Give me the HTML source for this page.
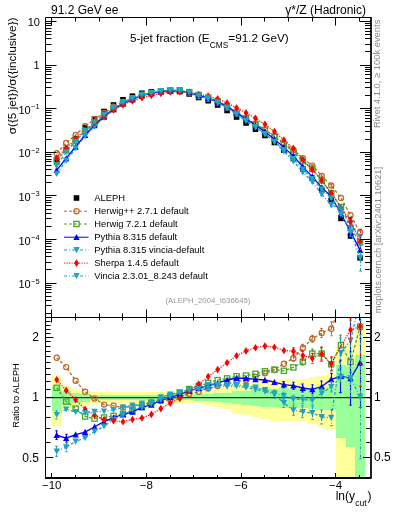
<!DOCTYPE html>
<html><head><meta charset="utf-8"><style>html,body{margin:0;padding:0;background:#fff;overflow:hidden}svg{display:block;will-change:transform}</style></head>
<body><svg width="393" height="512" viewBox="0 0 393 512" font-family='"Liberation Sans", sans-serif'>
<defs><clipPath id="cm"><rect x="45.5" y="17.5" width="325.5" height="300.0"/></clipPath>
<clipPath id="cr"><rect x="45.5" y="317.5" width="325.5" height="160.5"/></clipPath></defs>
<rect width="393" height="512" fill="#fff"/>
<rect x="52" y="376" width="9" height="50" fill="#ffff99"/><rect x="61" y="386" width="10" height="25" fill="#ffff99"/><rect x="71" y="389" width="9" height="18" fill="#ffff99"/><rect x="80" y="391" width="10" height="14" fill="#ffff99"/><rect x="90" y="392" width="9" height="11" fill="#ffff99"/><rect x="99" y="392" width="10" height="11" fill="#ffff99"/><rect x="109" y="392" width="9" height="11" fill="#ffff99"/><rect x="118" y="392" width="10" height="11" fill="#ffff99"/><rect x="128" y="392" width="9" height="11" fill="#ffff99"/><rect x="137" y="392" width="10" height="11" fill="#ffff99"/><rect x="147" y="392" width="9" height="11" fill="#ffff99"/><rect x="156" y="392" width="10" height="11" fill="#ffff99"/><rect x="166" y="392" width="9" height="11" fill="#ffff99"/><rect x="175" y="392" width="10" height="11" fill="#ffff99"/><rect x="185" y="392" width="9" height="11" fill="#ffff99"/><rect x="194" y="392" width="9" height="11" fill="#ffff99"/><rect x="203" y="391" width="10" height="14" fill="#ffff99"/><rect x="213" y="389" width="9" height="18" fill="#ffff99"/><rect x="222" y="387" width="10" height="22" fill="#ffff99"/><rect x="232" y="384" width="9" height="30" fill="#ffff99"/><rect x="241" y="383" width="10" height="32" fill="#ffff99"/><rect x="251" y="382" width="9" height="35" fill="#ffff99"/><rect x="260" y="380" width="10" height="39" fill="#ffff99"/><rect x="270" y="379" width="9" height="43" fill="#ffff99"/><rect x="279" y="379" width="10" height="42" fill="#ffff99"/><rect x="289" y="379" width="9" height="42" fill="#ffff99"/><rect x="298" y="379" width="10" height="42" fill="#ffff99"/><rect x="308" y="377" width="9" height="47" fill="#ffff99"/><rect x="317" y="376" width="9" height="51" fill="#ffff99"/><rect x="326" y="374" width="10" height="56" fill="#ffff99"/><rect x="336" y="347" width="10" height="131" fill="#ffff99"/><rect x="346" y="343" width="9" height="135" fill="#ffff99"/><rect x="355" y="329" width="10" height="149" fill="#ffff99"/>
<rect x="52" y="386" width="9" height="25" fill="#99ff99"/><rect x="61" y="391" width="10" height="14" fill="#99ff99"/><rect x="71" y="393" width="9" height="10" fill="#99ff99"/><rect x="80" y="394" width="10" height="8" fill="#99ff99"/><rect x="90" y="395" width="9" height="5" fill="#99ff99"/><rect x="99" y="395" width="10" height="5" fill="#99ff99"/><rect x="109" y="395" width="9" height="5" fill="#99ff99"/><rect x="118" y="395" width="10" height="5" fill="#99ff99"/><rect x="128" y="395" width="9" height="5" fill="#99ff99"/><rect x="137" y="395" width="10" height="5" fill="#99ff99"/><rect x="147" y="395" width="9" height="5" fill="#99ff99"/><rect x="156" y="395" width="10" height="5" fill="#99ff99"/><rect x="166" y="395" width="9" height="5" fill="#99ff99"/><rect x="175" y="395" width="10" height="5" fill="#99ff99"/><rect x="185" y="395" width="9" height="5" fill="#99ff99"/><rect x="194" y="394" width="9" height="7" fill="#99ff99"/><rect x="203" y="394" width="10" height="7" fill="#99ff99"/><rect x="213" y="393" width="9" height="9" fill="#99ff99"/><rect x="222" y="393" width="10" height="10" fill="#99ff99"/><rect x="232" y="391" width="9" height="13" fill="#99ff99"/><rect x="241" y="391" width="10" height="14" fill="#99ff99"/><rect x="251" y="390" width="9" height="16" fill="#99ff99"/><rect x="260" y="389" width="10" height="18" fill="#99ff99"/><rect x="270" y="389" width="9" height="18" fill="#99ff99"/><rect x="279" y="388" width="10" height="20" fill="#99ff99"/><rect x="289" y="389" width="9" height="19" fill="#99ff99"/><rect x="298" y="388" width="10" height="20" fill="#99ff99"/><rect x="308" y="388" width="9" height="21" fill="#99ff99"/><rect x="317" y="387" width="9" height="23" fill="#99ff99"/><rect x="326" y="387" width="10" height="23" fill="#99ff99"/><rect x="336" y="365" width="10" height="73" fill="#99ff99"/><rect x="346" y="366" width="9" height="81" fill="#99ff99"/><rect x="355" y="355" width="10" height="123" fill="#99ff99"/>
<line x1="45.5" y1="397.6" x2="371.0" y2="397.6" stroke="#333" stroke-width="1.3"/>
<g clip-path="url(#cm)"><rect x="53.91" y="159.20" width="5.6" height="5.6" fill="#000"/><rect x="63.38" y="146.80" width="5.6" height="5.6" fill="#000"/><rect x="72.84" y="135.90" width="5.6" height="5.6" fill="#000"/><rect x="82.31" y="124.70" width="5.6" height="5.6" fill="#000"/><rect x="91.78" y="116.20" width="5.6" height="5.6" fill="#000"/><rect x="101.24" y="108.70" width="5.6" height="5.6" fill="#000"/><rect x="110.71" y="102.20" width="5.6" height="5.6" fill="#000"/><rect x="120.17" y="97.00" width="5.6" height="5.6" fill="#000"/><rect x="129.64" y="93.40" width="5.6" height="5.6" fill="#000"/><rect x="139.11" y="90.50" width="5.6" height="5.6" fill="#000"/><rect x="148.57" y="89.00" width="5.6" height="5.6" fill="#000"/><rect x="158.04" y="88.20" width="5.6" height="5.6" fill="#000"/><rect x="167.50" y="88.00" width="5.6" height="5.6" fill="#000"/><rect x="176.97" y="88.70" width="5.6" height="5.6" fill="#000"/><rect x="186.44" y="91.20" width="5.6" height="5.6" fill="#000"/><rect x="195.90" y="94.70" width="5.6" height="5.6" fill="#000"/><rect x="205.37" y="97.90" width="5.6" height="5.6" fill="#000"/><rect x="214.83" y="102.20" width="5.6" height="5.6" fill="#000"/><rect x="224.30" y="107.70" width="5.6" height="5.6" fill="#000"/><rect x="233.77" y="114.20" width="5.6" height="5.6" fill="#000"/><rect x="243.23" y="120.20" width="5.6" height="5.6" fill="#000"/><rect x="252.70" y="126.40" width="5.6" height="5.6" fill="#000"/><rect x="262.16" y="132.70" width="5.6" height="5.6" fill="#000"/><rect x="271.63" y="139.70" width="5.6" height="5.6" fill="#000"/><rect x="281.10" y="147.40" width="5.6" height="5.6" fill="#000"/><rect x="290.56" y="155.70" width="5.6" height="5.6" fill="#000"/><rect x="300.03" y="166.20" width="5.6" height="5.6" fill="#000"/><rect x="309.50" y="175.60" width="5.6" height="5.6" fill="#000"/><rect x="318.96" y="187.20" width="5.6" height="5.6" fill="#000"/><rect x="328.43" y="197.70" width="5.6" height="5.6" fill="#000"/><rect x="338.18" y="215.60" width="5.6" height="5.6" fill="#000"/><rect x="347.75" y="233.20" width="5.6" height="5.6" fill="#000"/><rect x="357.30" y="255.00" width="5.6" height="5.6" fill="#000"/></g><g clip-path="url(#cm)"><polyline points="56.71,153.31 66.18,142.96 75.64,135.02 85.11,126.24 94.58,119.22 104.04,113.02 113.51,106.78 122.97,101.95 132.44,98.14 141.91,94.80 151.37,92.87 160.84,91.70 170.30,91.21 179.77,91.26 189.24,93.22 198.70,96.24 208.17,98.70 217.63,102.45 227.10,107.50 236.57,113.54 246.03,119.17 255.50,124.72 264.96,130.19 274.43,136.49 283.90,142.84 293.36,149.92 302.83,158.18 312.30,165.60 321.76,175.94 331.23,185.50 340.98,197.92 350.55,215.19 360.10,232.53" fill="none" stroke="#b8682a" stroke-width="1.3" stroke-dasharray="3,2"/><circle cx="56.71" cy="153.31" r="2.6" fill="none" stroke="#b8682a" stroke-width="1.2"/><circle cx="66.18" cy="142.96" r="2.6" fill="none" stroke="#b8682a" stroke-width="1.2"/><circle cx="75.64" cy="135.02" r="2.6" fill="none" stroke="#b8682a" stroke-width="1.2"/><circle cx="85.11" cy="126.24" r="2.6" fill="none" stroke="#b8682a" stroke-width="1.2"/><circle cx="94.58" cy="119.22" r="2.6" fill="none" stroke="#b8682a" stroke-width="1.2"/><circle cx="104.04" cy="113.02" r="2.6" fill="none" stroke="#b8682a" stroke-width="1.2"/><circle cx="113.51" cy="106.78" r="2.6" fill="none" stroke="#b8682a" stroke-width="1.2"/><circle cx="122.97" cy="101.95" r="2.6" fill="none" stroke="#b8682a" stroke-width="1.2"/><circle cx="132.44" cy="98.14" r="2.6" fill="none" stroke="#b8682a" stroke-width="1.2"/><circle cx="141.91" cy="94.80" r="2.6" fill="none" stroke="#b8682a" stroke-width="1.2"/><circle cx="151.37" cy="92.87" r="2.6" fill="none" stroke="#b8682a" stroke-width="1.2"/><circle cx="160.84" cy="91.70" r="2.6" fill="none" stroke="#b8682a" stroke-width="1.2"/><circle cx="170.30" cy="91.21" r="2.6" fill="none" stroke="#b8682a" stroke-width="1.2"/><circle cx="179.77" cy="91.26" r="2.6" fill="none" stroke="#b8682a" stroke-width="1.2"/><circle cx="189.24" cy="93.22" r="2.6" fill="none" stroke="#b8682a" stroke-width="1.2"/><circle cx="198.70" cy="96.24" r="2.6" fill="none" stroke="#b8682a" stroke-width="1.2"/><circle cx="208.17" cy="98.70" r="2.6" fill="none" stroke="#b8682a" stroke-width="1.2"/><circle cx="217.63" cy="102.45" r="2.6" fill="none" stroke="#b8682a" stroke-width="1.2"/><circle cx="227.10" cy="107.50" r="2.6" fill="none" stroke="#b8682a" stroke-width="1.2"/><circle cx="236.57" cy="113.54" r="2.6" fill="none" stroke="#b8682a" stroke-width="1.2"/><circle cx="246.03" cy="119.17" r="2.6" fill="none" stroke="#b8682a" stroke-width="1.2"/><circle cx="255.50" cy="124.72" r="2.6" fill="none" stroke="#b8682a" stroke-width="1.2"/><circle cx="264.96" cy="130.19" r="2.6" fill="none" stroke="#b8682a" stroke-width="1.2"/><circle cx="274.43" cy="136.49" r="2.6" fill="none" stroke="#b8682a" stroke-width="1.2"/><circle cx="283.90" cy="142.84" r="2.6" fill="none" stroke="#b8682a" stroke-width="1.2"/><path d="M293.50,149.27V150.58" stroke="#b8682a" stroke-width="1.1" fill="none" stroke-dasharray="3,2"/><path d="M292.30,149.27h2.4M292.30,150.58h2.4" stroke="#b8682a" stroke-width="1.1" fill="none"/><circle cx="293.36" cy="149.92" r="2.6" fill="none" stroke="#b8682a" stroke-width="1.2"/><path d="M302.50,157.42V158.94" stroke="#b8682a" stroke-width="1.1" fill="none" stroke-dasharray="3,2"/><path d="M301.30,157.42h2.4M301.30,158.94h2.4" stroke="#b8682a" stroke-width="1.1" fill="none"/><circle cx="302.83" cy="158.18" r="2.6" fill="none" stroke="#b8682a" stroke-width="1.2"/><path d="M312.50,164.84V166.36" stroke="#b8682a" stroke-width="1.1" fill="none" stroke-dasharray="3,2"/><path d="M311.30,164.84h2.4M311.30,166.36h2.4" stroke="#b8682a" stroke-width="1.1" fill="none"/><circle cx="312.30" cy="165.60" r="2.6" fill="none" stroke="#b8682a" stroke-width="1.2"/><path d="M321.50,174.96V176.92" stroke="#b8682a" stroke-width="1.1" fill="none" stroke-dasharray="3,2"/><path d="M320.30,174.96h2.4M320.30,176.92h2.4" stroke="#b8682a" stroke-width="1.1" fill="none"/><circle cx="321.76" cy="175.94" r="2.6" fill="none" stroke="#b8682a" stroke-width="1.2"/><path d="M331.50,183.98V187.03" stroke="#b8682a" stroke-width="1.1" fill="none" stroke-dasharray="3,2"/><path d="M330.30,183.98h2.4M330.30,187.03h2.4" stroke="#b8682a" stroke-width="1.1" fill="none"/><circle cx="331.23" cy="185.50" r="2.6" fill="none" stroke="#b8682a" stroke-width="1.2"/><circle cx="340.98" cy="197.92" r="2.6" fill="none" stroke="#b8682a" stroke-width="1.2"/><circle cx="350.55" cy="215.19" r="2.6" fill="none" stroke="#b8682a" stroke-width="1.2"/><circle cx="360.10" cy="232.53" r="2.6" fill="none" stroke="#b8682a" stroke-width="1.2"/></g><g clip-path="url(#cm)"><polyline points="56.71,159.87 66.18,150.45 75.64,141.09 85.11,131.61 94.58,123.57 104.04,115.83 113.51,108.98 122.97,103.33 132.44,99.12 141.91,95.35 151.37,92.98 160.84,91.41 170.30,90.45 179.77,90.39 189.24,92.13 198.70,94.97 208.17,97.52 217.63,101.19 227.10,106.32 236.57,112.36 246.03,118.19 255.50,124.02 264.96,129.78 274.43,136.41 283.90,144.37 293.36,151.93 302.83,161.19 312.30,168.82 321.76,180.42 331.23,193.23 340.98,206.97 350.55,228.23 360.10,242.35" fill="none" stroke="#4aa52a" stroke-width="1.3" stroke-dasharray="3,2"/><rect x="54.11" y="157.27" width="5.2" height="5.2" fill="none" stroke="#4aa52a" stroke-width="1.3"/><rect x="63.58" y="147.85" width="5.2" height="5.2" fill="none" stroke="#4aa52a" stroke-width="1.3"/><rect x="73.04" y="138.49" width="5.2" height="5.2" fill="none" stroke="#4aa52a" stroke-width="1.3"/><rect x="82.51" y="129.01" width="5.2" height="5.2" fill="none" stroke="#4aa52a" stroke-width="1.3"/><rect x="91.98" y="120.97" width="5.2" height="5.2" fill="none" stroke="#4aa52a" stroke-width="1.3"/><rect x="101.44" y="113.23" width="5.2" height="5.2" fill="none" stroke="#4aa52a" stroke-width="1.3"/><rect x="110.91" y="106.38" width="5.2" height="5.2" fill="none" stroke="#4aa52a" stroke-width="1.3"/><rect x="120.38" y="100.73" width="5.2" height="5.2" fill="none" stroke="#4aa52a" stroke-width="1.3"/><rect x="129.84" y="96.52" width="5.2" height="5.2" fill="none" stroke="#4aa52a" stroke-width="1.3"/><rect x="139.31" y="92.75" width="5.2" height="5.2" fill="none" stroke="#4aa52a" stroke-width="1.3"/><rect x="148.77" y="90.38" width="5.2" height="5.2" fill="none" stroke="#4aa52a" stroke-width="1.3"/><rect x="158.24" y="88.81" width="5.2" height="5.2" fill="none" stroke="#4aa52a" stroke-width="1.3"/><rect x="167.70" y="87.85" width="5.2" height="5.2" fill="none" stroke="#4aa52a" stroke-width="1.3"/><rect x="177.17" y="87.79" width="5.2" height="5.2" fill="none" stroke="#4aa52a" stroke-width="1.3"/><rect x="186.64" y="89.53" width="5.2" height="5.2" fill="none" stroke="#4aa52a" stroke-width="1.3"/><rect x="196.10" y="92.37" width="5.2" height="5.2" fill="none" stroke="#4aa52a" stroke-width="1.3"/><rect x="205.57" y="94.92" width="5.2" height="5.2" fill="none" stroke="#4aa52a" stroke-width="1.3"/><rect x="215.03" y="98.59" width="5.2" height="5.2" fill="none" stroke="#4aa52a" stroke-width="1.3"/><rect x="224.50" y="103.72" width="5.2" height="5.2" fill="none" stroke="#4aa52a" stroke-width="1.3"/><rect x="233.97" y="109.76" width="5.2" height="5.2" fill="none" stroke="#4aa52a" stroke-width="1.3"/><rect x="243.43" y="115.59" width="5.2" height="5.2" fill="none" stroke="#4aa52a" stroke-width="1.3"/><rect x="252.90" y="121.42" width="5.2" height="5.2" fill="none" stroke="#4aa52a" stroke-width="1.3"/><rect x="262.36" y="127.18" width="5.2" height="5.2" fill="none" stroke="#4aa52a" stroke-width="1.3"/><rect x="271.83" y="133.81" width="5.2" height="5.2" fill="none" stroke="#4aa52a" stroke-width="1.3"/><rect x="281.30" y="141.77" width="5.2" height="5.2" fill="none" stroke="#4aa52a" stroke-width="1.3"/><rect x="290.76" y="149.33" width="5.2" height="5.2" fill="none" stroke="#4aa52a" stroke-width="1.3"/><path d="M302.50,160.42V161.95" stroke="#4aa52a" stroke-width="1.1" fill="none" stroke-dasharray="3,2"/><path d="M301.30,160.42h2.4M301.30,161.95h2.4" stroke="#4aa52a" stroke-width="1.1" fill="none"/><rect x="300.23" y="158.59" width="5.2" height="5.2" fill="none" stroke="#4aa52a" stroke-width="1.3"/><path d="M312.50,167.84V169.80" stroke="#4aa52a" stroke-width="1.1" fill="none" stroke-dasharray="3,2"/><path d="M311.30,167.84h2.4M311.30,169.80h2.4" stroke="#4aa52a" stroke-width="1.1" fill="none"/><rect x="309.69" y="166.22" width="5.2" height="5.2" fill="none" stroke="#4aa52a" stroke-width="1.3"/><path d="M321.50,179.23V181.62" stroke="#4aa52a" stroke-width="1.1" fill="none" stroke-dasharray="3,2"/><path d="M320.30,179.23h2.4M320.30,181.62h2.4" stroke="#4aa52a" stroke-width="1.1" fill="none"/><rect x="319.16" y="177.82" width="5.2" height="5.2" fill="none" stroke="#4aa52a" stroke-width="1.3"/><path d="M331.50,191.92V194.54" stroke="#4aa52a" stroke-width="1.1" fill="none" stroke-dasharray="3,2"/><path d="M330.30,191.92h2.4M330.30,194.54h2.4" stroke="#4aa52a" stroke-width="1.1" fill="none"/><rect x="328.63" y="190.63" width="5.2" height="5.2" fill="none" stroke="#4aa52a" stroke-width="1.3"/><path d="M340.50,204.80V209.15" stroke="#4aa52a" stroke-width="1.1" fill="none" stroke-dasharray="3,2"/><path d="M339.30,204.80h2.4M339.30,209.15h2.4" stroke="#4aa52a" stroke-width="1.1" fill="none"/><rect x="338.38" y="204.37" width="5.2" height="5.2" fill="none" stroke="#4aa52a" stroke-width="1.3"/><path d="M350.50,226.05V230.41" stroke="#4aa52a" stroke-width="1.1" fill="none" stroke-dasharray="3,2"/><path d="M349.30,226.05h2.4M349.30,230.41h2.4" stroke="#4aa52a" stroke-width="1.1" fill="none"/><rect x="347.95" y="225.63" width="5.2" height="5.2" fill="none" stroke="#4aa52a" stroke-width="1.3"/><path d="M360.50,239.73V244.96" stroke="#4aa52a" stroke-width="1.1" fill="none" stroke-dasharray="3,2"/><path d="M359.30,239.73h2.4M359.30,244.96h2.4" stroke="#4aa52a" stroke-width="1.1" fill="none"/><rect x="357.50" y="239.75" width="5.2" height="5.2" fill="none" stroke="#4aa52a" stroke-width="1.3"/></g><g clip-path="url(#cm)"><polyline points="56.71,170.16 66.18,158.44 75.64,146.75 85.11,135.01 94.58,125.33 104.04,116.75 113.51,109.33 122.97,103.48 132.44,99.29 141.91,95.43 151.37,93.37 160.84,91.59 170.30,90.73 179.77,90.83 189.24,92.54 198.70,95.45 208.17,98.07 217.63,101.87 227.10,106.67 236.57,112.73 246.03,118.82 255.50,125.24 264.96,131.67 274.43,139.15 283.90,147.37 293.36,155.91 302.83,166.91 312.30,176.59 321.76,187.58 331.23,196.54 340.98,213.72 350.55,231.80 360.10,250.16" fill="none" stroke="#0000ff" stroke-width="1.3"/><path d="M56.50,169.20V171.12" stroke="#0000ff" stroke-width="1.1" fill="none"/><path d="M55.30,169.20h2.4M55.30,171.12h2.4" stroke="#0000ff" stroke-width="1.1" fill="none"/><path d="M56.71,166.86L59.86,173.06L53.56,173.06Z" fill="#0000ff"/><path d="M66.50,157.57V159.31" stroke="#0000ff" stroke-width="1.1" fill="none"/><path d="M65.30,157.57h2.4M65.30,159.31h2.4" stroke="#0000ff" stroke-width="1.1" fill="none"/><path d="M66.18,155.14L69.33,161.34L63.03,161.34Z" fill="#0000ff"/><path d="M75.64,143.45L78.79,149.65L72.49,149.65Z" fill="#0000ff"/><path d="M85.11,131.71L88.26,137.91L81.96,137.91Z" fill="#0000ff"/><path d="M94.58,122.03L97.73,128.23L91.43,128.23Z" fill="#0000ff"/><path d="M104.04,113.45L107.19,119.65L100.89,119.65Z" fill="#0000ff"/><path d="M113.51,106.03L116.66,112.23L110.36,112.23Z" fill="#0000ff"/><path d="M122.97,100.18L126.12,106.38L119.82,106.38Z" fill="#0000ff"/><path d="M132.44,95.99L135.59,102.19L129.29,102.19Z" fill="#0000ff"/><path d="M141.91,92.13L145.06,98.33L138.76,98.33Z" fill="#0000ff"/><path d="M151.37,90.07L154.52,96.27L148.22,96.27Z" fill="#0000ff"/><path d="M160.84,88.29L163.99,94.49L157.69,94.49Z" fill="#0000ff"/><path d="M170.30,87.43L173.45,93.63L167.15,93.63Z" fill="#0000ff"/><path d="M179.77,87.53L182.92,93.73L176.62,93.73Z" fill="#0000ff"/><path d="M189.24,89.24L192.39,95.44L186.09,95.44Z" fill="#0000ff"/><path d="M198.70,92.15L201.85,98.35L195.55,98.35Z" fill="#0000ff"/><path d="M208.17,94.77L211.32,100.97L205.02,100.97Z" fill="#0000ff"/><path d="M217.63,98.57L220.78,104.77L214.48,104.77Z" fill="#0000ff"/><path d="M227.10,103.37L230.25,109.57L223.95,109.57Z" fill="#0000ff"/><path d="M236.57,109.43L239.72,115.63L233.42,115.63Z" fill="#0000ff"/><path d="M246.03,115.52L249.18,121.72L242.88,121.72Z" fill="#0000ff"/><path d="M255.50,121.94L258.65,128.14L252.35,128.14Z" fill="#0000ff"/><path d="M264.96,128.37L268.11,134.57L261.81,134.57Z" fill="#0000ff"/><path d="M274.43,135.85L277.58,142.05L271.28,142.05Z" fill="#0000ff"/><path d="M283.50,146.72V148.02" stroke="#0000ff" stroke-width="1.1" fill="none"/><path d="M282.30,146.72h2.4M282.30,148.02h2.4" stroke="#0000ff" stroke-width="1.1" fill="none"/><path d="M283.90,144.07L287.05,150.27L280.75,150.27Z" fill="#0000ff"/><path d="M293.50,155.15V156.67" stroke="#0000ff" stroke-width="1.1" fill="none"/><path d="M292.30,155.15h2.4M292.30,156.67h2.4" stroke="#0000ff" stroke-width="1.1" fill="none"/><path d="M293.36,152.61L296.51,158.81L290.21,158.81Z" fill="#0000ff"/><path d="M302.50,166.04V167.78" stroke="#0000ff" stroke-width="1.1" fill="none"/><path d="M301.30,166.04h2.4M301.30,167.78h2.4" stroke="#0000ff" stroke-width="1.1" fill="none"/><path d="M302.83,163.61L305.98,169.81L299.68,169.81Z" fill="#0000ff"/><path d="M312.50,175.61V177.57" stroke="#0000ff" stroke-width="1.1" fill="none"/><path d="M311.30,175.61h2.4M311.30,177.57h2.4" stroke="#0000ff" stroke-width="1.1" fill="none"/><path d="M312.30,173.29L315.44,179.49L309.15,179.49Z" fill="#0000ff"/><path d="M321.50,186.39V188.78" stroke="#0000ff" stroke-width="1.1" fill="none"/><path d="M320.30,186.39h2.4M320.30,188.78h2.4" stroke="#0000ff" stroke-width="1.1" fill="none"/><path d="M321.76,184.28L324.91,190.48L318.61,190.48Z" fill="#0000ff"/><path d="M331.50,195.23V197.84" stroke="#0000ff" stroke-width="1.1" fill="none"/><path d="M330.30,195.23h2.4M330.30,197.84h2.4" stroke="#0000ff" stroke-width="1.1" fill="none"/><path d="M331.23,193.24L334.38,199.44L328.08,199.44Z" fill="#0000ff"/><path d="M340.50,210.24V217.31" stroke="#0000ff" stroke-width="1.1" fill="none"/><path d="M339.30,210.24h2.4M339.30,217.31h2.4" stroke="#0000ff" stroke-width="1.1" fill="none"/><path d="M340.98,210.42L344.13,216.62L337.83,216.62Z" fill="#0000ff"/><path d="M350.50,217.65V237.68" stroke="#0000ff" stroke-width="1.1" fill="none"/><path d="M349.30,217.65h2.4M349.30,237.68h2.4" stroke="#0000ff" stroke-width="1.1" fill="none"/><path d="M350.55,228.50L353.70,234.70L347.40,234.70Z" fill="#0000ff"/><path d="M360.50,240.36V259.95" stroke="#0000ff" stroke-width="1.1" fill="none"/><path d="M359.30,240.36h2.4M359.30,259.95h2.4" stroke="#0000ff" stroke-width="1.1" fill="none"/><path d="M360.10,246.86L363.25,253.06L356.95,253.06Z" fill="#0000ff"/></g><g clip-path="url(#cm)"><polyline points="56.71,173.71 66.18,160.40 75.64,148.26 85.11,136.27 94.58,126.38 104.04,117.75 113.51,109.79 122.97,103.59 132.44,98.88 141.91,95.43 151.37,93.19 160.84,91.52 170.30,90.56 179.77,90.50 189.24,92.45 198.70,95.63 208.17,98.83 217.63,102.47 227.10,108.08 236.57,114.47 246.03,120.80 255.50,127.44 264.96,134.17 274.43,141.83 283.90,151.38 293.36,161.24 302.83,172.09 312.30,181.73 321.76,194.22 331.23,204.85 340.98,208.67 350.55,223.53 360.10,236.56" fill="none" stroke="#1e9ec8" stroke-width="1.3" stroke-dasharray="3,2,1,2"/><path d="M56.50,172.62V174.80" stroke="#1e9ec8" stroke-width="1.1" fill="none" stroke-dasharray="3,2,1,2"/><path d="M55.30,172.62h2.4M55.30,174.80h2.4" stroke="#1e9ec8" stroke-width="1.1" fill="none"/><path d="M56.71,177.01L59.86,170.81L53.56,170.81Z" fill="#1e9ec8"/><path d="M66.50,159.42V161.38" stroke="#1e9ec8" stroke-width="1.1" fill="none" stroke-dasharray="3,2,1,2"/><path d="M65.30,159.42h2.4M65.30,161.38h2.4" stroke="#1e9ec8" stroke-width="1.1" fill="none"/><path d="M66.18,163.70L69.33,157.50L63.03,157.50Z" fill="#1e9ec8"/><path d="M75.64,151.56L78.79,145.36L72.49,145.36Z" fill="#1e9ec8"/><path d="M85.11,139.57L88.26,133.37L81.96,133.37Z" fill="#1e9ec8"/><path d="M94.58,129.68L97.73,123.48L91.43,123.48Z" fill="#1e9ec8"/><path d="M104.04,121.05L107.19,114.85L100.89,114.85Z" fill="#1e9ec8"/><path d="M113.51,113.09L116.66,106.89L110.36,106.89Z" fill="#1e9ec8"/><path d="M122.97,106.89L126.12,100.69L119.82,100.69Z" fill="#1e9ec8"/><path d="M132.44,102.18L135.59,95.98L129.29,95.98Z" fill="#1e9ec8"/><path d="M141.91,98.73L145.06,92.53L138.76,92.53Z" fill="#1e9ec8"/><path d="M151.37,96.49L154.52,90.29L148.22,90.29Z" fill="#1e9ec8"/><path d="M160.84,94.82L163.99,88.62L157.69,88.62Z" fill="#1e9ec8"/><path d="M170.30,93.86L173.45,87.66L167.15,87.66Z" fill="#1e9ec8"/><path d="M179.77,93.80L182.92,87.60L176.62,87.60Z" fill="#1e9ec8"/><path d="M189.24,95.75L192.39,89.55L186.09,89.55Z" fill="#1e9ec8"/><path d="M198.70,98.93L201.85,92.73L195.55,92.73Z" fill="#1e9ec8"/><path d="M208.17,102.13L211.32,95.93L205.02,95.93Z" fill="#1e9ec8"/><path d="M217.63,105.77L220.78,99.57L214.48,99.57Z" fill="#1e9ec8"/><path d="M227.10,111.38L230.25,105.18L223.95,105.18Z" fill="#1e9ec8"/><path d="M236.57,117.77L239.72,111.57L233.42,111.57Z" fill="#1e9ec8"/><path d="M246.03,124.10L249.18,117.90L242.88,117.90Z" fill="#1e9ec8"/><path d="M255.50,130.74L258.65,124.54L252.35,124.54Z" fill="#1e9ec8"/><path d="M264.96,137.47L268.11,131.27L261.81,131.27Z" fill="#1e9ec8"/><path d="M274.50,140.95V142.70" stroke="#1e9ec8" stroke-width="1.1" fill="none" stroke-dasharray="3,2,1,2"/><path d="M273.30,140.95h2.4M273.30,142.70h2.4" stroke="#1e9ec8" stroke-width="1.1" fill="none"/><path d="M274.43,145.13L277.58,138.93L271.28,138.93Z" fill="#1e9ec8"/><path d="M283.50,150.40V152.35" stroke="#1e9ec8" stroke-width="1.1" fill="none" stroke-dasharray="3,2,1,2"/><path d="M282.30,150.40h2.4M282.30,152.35h2.4" stroke="#1e9ec8" stroke-width="1.1" fill="none"/><path d="M283.90,154.68L287.05,148.48L280.75,148.48Z" fill="#1e9ec8"/><path d="M293.50,160.15V162.33" stroke="#1e9ec8" stroke-width="1.1" fill="none" stroke-dasharray="3,2,1,2"/><path d="M292.30,160.15h2.4M292.30,162.33h2.4" stroke="#1e9ec8" stroke-width="1.1" fill="none"/><path d="M293.36,164.54L296.51,158.34L290.21,158.34Z" fill="#1e9ec8"/><path d="M302.50,170.78V173.40" stroke="#1e9ec8" stroke-width="1.1" fill="none" stroke-dasharray="3,2,1,2"/><path d="M301.30,170.78h2.4M301.30,173.40h2.4" stroke="#1e9ec8" stroke-width="1.1" fill="none"/><path d="M302.83,175.39L305.98,169.19L299.68,169.19Z" fill="#1e9ec8"/><path d="M312.50,180.32V183.15" stroke="#1e9ec8" stroke-width="1.1" fill="none" stroke-dasharray="3,2,1,2"/><path d="M311.30,180.32h2.4M311.30,183.15h2.4" stroke="#1e9ec8" stroke-width="1.1" fill="none"/><path d="M312.30,185.03L315.44,178.83L309.15,178.83Z" fill="#1e9ec8"/><path d="M321.50,192.70V195.75" stroke="#1e9ec8" stroke-width="1.1" fill="none" stroke-dasharray="3,2,1,2"/><path d="M320.30,192.70h2.4M320.30,195.75h2.4" stroke="#1e9ec8" stroke-width="1.1" fill="none"/><path d="M321.76,197.52L324.91,191.32L318.61,191.32Z" fill="#1e9ec8"/><path d="M331.50,203.11V206.59" stroke="#1e9ec8" stroke-width="1.1" fill="none" stroke-dasharray="3,2,1,2"/><path d="M330.30,203.11h2.4M330.30,206.59h2.4" stroke="#1e9ec8" stroke-width="1.1" fill="none"/><path d="M331.23,208.15L334.38,201.95L328.08,201.95Z" fill="#1e9ec8"/><path d="M340.50,205.40V211.94" stroke="#1e9ec8" stroke-width="1.1" fill="none" stroke-dasharray="3,2,1,2"/><path d="M339.30,205.40h2.4M339.30,211.94h2.4" stroke="#1e9ec8" stroke-width="1.1" fill="none"/><path d="M340.98,211.97L344.13,205.77L337.83,205.77Z" fill="#1e9ec8"/><path d="M350.50,219.17V227.88" stroke="#1e9ec8" stroke-width="1.1" fill="none" stroke-dasharray="3,2,1,2"/><path d="M349.30,219.17h2.4M349.30,227.88h2.4" stroke="#1e9ec8" stroke-width="1.1" fill="none"/><path d="M350.55,226.83L353.70,220.63L347.40,220.63Z" fill="#1e9ec8"/><path d="M360.50,230.02V243.09" stroke="#1e9ec8" stroke-width="1.1" fill="none" stroke-dasharray="3,2,1,2"/><path d="M359.30,230.02h2.4M359.30,243.09h2.4" stroke="#1e9ec8" stroke-width="1.1" fill="none"/><path d="M360.10,239.86L363.25,233.66L356.95,233.66Z" fill="#1e9ec8"/></g><g clip-path="url(#cm)"><polyline points="56.71,158.10 66.18,148.03 75.64,139.18 85.11,130.03 94.58,122.83 104.04,116.29 113.51,110.03 122.97,105.05 132.44,100.97 141.91,97.74 151.37,95.46 160.84,93.39 170.30,92.00 179.77,91.67 189.24,92.41 198.70,94.56 208.17,96.13 217.63,98.91 227.10,102.92 236.57,107.88 246.03,112.83 255.50,118.34 264.96,124.29 274.43,131.55 283.90,139.95 293.36,148.40 302.83,159.86 312.30,169.82 321.76,180.53 331.23,193.16 340.98,207.06 350.55,221.29 360.10,242.30" fill="none" stroke="#ff0000" stroke-width="1.2" stroke-dasharray="1.2,1.3"/><path d="M56.71,154.30L59.16,158.10L56.71,161.90L54.26,158.10Z" fill="#ff0000"/><path d="M66.18,144.23L68.63,148.03L66.18,151.83L63.73,148.03Z" fill="#ff0000"/><path d="M75.64,135.38L78.09,139.18L75.64,142.98L73.19,139.18Z" fill="#ff0000"/><path d="M85.11,126.23L87.56,130.03L85.11,133.83L82.66,130.03Z" fill="#ff0000"/><path d="M94.58,119.03L97.03,122.83L94.58,126.63L92.13,122.83Z" fill="#ff0000"/><path d="M104.04,112.49L106.49,116.29L104.04,120.09L101.59,116.29Z" fill="#ff0000"/><path d="M113.51,106.23L115.96,110.03L113.51,113.83L111.06,110.03Z" fill="#ff0000"/><path d="M122.97,101.25L125.42,105.05L122.97,108.85L120.52,105.05Z" fill="#ff0000"/><path d="M132.44,97.17L134.89,100.97L132.44,104.77L129.99,100.97Z" fill="#ff0000"/><path d="M141.91,93.94L144.36,97.74L141.91,101.54L139.46,97.74Z" fill="#ff0000"/><path d="M151.37,91.66L153.82,95.46L151.37,99.26L148.92,95.46Z" fill="#ff0000"/><path d="M160.84,89.59L163.29,93.39L160.84,97.19L158.39,93.39Z" fill="#ff0000"/><path d="M170.30,88.20L172.75,92.00L170.30,95.80L167.85,92.00Z" fill="#ff0000"/><path d="M179.77,87.87L182.22,91.67L179.77,95.47L177.32,91.67Z" fill="#ff0000"/><path d="M189.24,88.61L191.69,92.41L189.24,96.21L186.79,92.41Z" fill="#ff0000"/><path d="M198.70,90.76L201.15,94.56L198.70,98.36L196.25,94.56Z" fill="#ff0000"/><path d="M208.17,92.33L210.62,96.13L208.17,99.93L205.72,96.13Z" fill="#ff0000"/><path d="M217.63,95.11L220.08,98.91L217.63,102.71L215.19,98.91Z" fill="#ff0000"/><path d="M227.10,99.12L229.55,102.92L227.10,106.72L224.65,102.92Z" fill="#ff0000"/><path d="M236.57,104.08L239.02,107.88L236.57,111.68L234.12,107.88Z" fill="#ff0000"/><path d="M246.03,109.03L248.48,112.83L246.03,116.63L243.58,112.83Z" fill="#ff0000"/><path d="M255.50,114.54L257.95,118.34L255.50,122.14L253.05,118.34Z" fill="#ff0000"/><path d="M264.96,120.49L267.41,124.29L264.96,128.09L262.51,124.29Z" fill="#ff0000"/><path d="M274.43,127.75L276.88,131.55L274.43,135.35L271.98,131.55Z" fill="#ff0000"/><path d="M283.90,136.15L286.35,139.95L283.90,143.75L281.45,139.95Z" fill="#ff0000"/><path d="M293.50,147.64V149.16" stroke="#ff0000" stroke-width="1.1" fill="none" stroke-dasharray="1.2,1.3"/><path d="M292.30,147.64h2.4M292.30,149.16h2.4" stroke="#ff0000" stroke-width="1.1" fill="none"/><path d="M293.36,144.60L295.81,148.40L293.36,152.20L290.91,148.40Z" fill="#ff0000"/><path d="M302.50,158.88V160.84" stroke="#ff0000" stroke-width="1.1" fill="none" stroke-dasharray="1.2,1.3"/><path d="M301.30,158.88h2.4M301.30,160.84h2.4" stroke="#ff0000" stroke-width="1.1" fill="none"/><path d="M302.83,156.06L305.28,159.86L302.83,163.66L300.38,159.86Z" fill="#ff0000"/><path d="M312.50,168.74V170.91" stroke="#ff0000" stroke-width="1.1" fill="none" stroke-dasharray="1.2,1.3"/><path d="M311.30,168.74h2.4M311.30,170.91h2.4" stroke="#ff0000" stroke-width="1.1" fill="none"/><path d="M312.30,166.02L314.75,169.82L312.30,173.62L309.85,169.82Z" fill="#ff0000"/><path d="M321.50,179.01V182.05" stroke="#ff0000" stroke-width="1.1" fill="none" stroke-dasharray="1.2,1.3"/><path d="M320.30,179.01h2.4M320.30,182.05h2.4" stroke="#ff0000" stroke-width="1.1" fill="none"/><path d="M321.76,176.73L324.21,180.53L321.76,184.33L319.31,180.53Z" fill="#ff0000"/><path d="M331.50,191.64V194.69" stroke="#ff0000" stroke-width="1.1" fill="none" stroke-dasharray="1.2,1.3"/><path d="M330.30,191.64h2.4M330.30,194.69h2.4" stroke="#ff0000" stroke-width="1.1" fill="none"/><path d="M331.23,189.36L333.68,193.16L331.23,196.96L328.78,193.16Z" fill="#ff0000"/><path d="M350.50,218.67V223.90" stroke="#ff0000" stroke-width="1.1" fill="none" stroke-dasharray="1.2,1.3"/><path d="M349.30,218.67h2.4M349.30,223.90h2.4" stroke="#ff0000" stroke-width="1.1" fill="none"/><path d="M350.55,217.49L353.00,221.29L350.55,225.09L348.10,221.29Z" fill="#ff0000"/><path d="M360.50,229.24V255.36" stroke="#ff0000" stroke-width="1.1" fill="none" stroke-dasharray="1.2,1.3"/><path d="M359.30,229.24h2.4M359.30,255.36h2.4" stroke="#ff0000" stroke-width="1.1" fill="none"/><path d="M360.10,238.50L362.55,242.30L360.10,246.10L357.65,242.30Z" fill="#ff0000"/></g><g clip-path="url(#cm)"><polyline points="56.71,165.74 66.18,152.15 75.64,141.83 85.11,130.85 94.58,122.07 104.04,114.48 113.51,107.70 122.97,101.93 132.44,97.90 141.91,94.58 151.37,92.82 160.84,90.91 170.30,90.13 179.77,90.35 189.24,92.39 198.70,95.58 208.17,97.91 217.63,102.26 227.10,107.76 236.57,114.26 246.03,120.47 255.50,127.00 264.96,133.85 274.43,141.61 283.90,149.81 293.36,158.85 302.83,169.44 312.30,178.99 321.76,189.06 331.23,198.17 340.98,213.87 350.55,231.73 360.10,257.58" fill="none" stroke="#1fa6c0" stroke-width="1.3" stroke-dasharray="3,2,1,2"/><path d="M56.50,164.83V166.66" stroke="#1fa6c0" stroke-width="1.1" fill="none" stroke-dasharray="3,2,1,2"/><path d="M55.30,164.83h2.4M55.30,166.66h2.4" stroke="#1fa6c0" stroke-width="1.1" fill="none"/><path d="M56.71,169.04L59.86,162.84L53.56,162.84Z" fill="#1fa6c0"/><path d="M66.18,155.45L69.33,149.25L63.03,149.25Z" fill="#1fa6c0"/><path d="M75.64,145.13L78.79,138.93L72.49,138.93Z" fill="#1fa6c0"/><path d="M85.11,134.15L88.26,127.95L81.96,127.95Z" fill="#1fa6c0"/><path d="M94.58,125.37L97.73,119.17L91.43,119.17Z" fill="#1fa6c0"/><path d="M104.04,117.78L107.19,111.58L100.89,111.58Z" fill="#1fa6c0"/><path d="M113.51,111.00L116.66,104.80L110.36,104.80Z" fill="#1fa6c0"/><path d="M122.97,105.23L126.12,99.03L119.82,99.03Z" fill="#1fa6c0"/><path d="M132.44,101.20L135.59,95.00L129.29,95.00Z" fill="#1fa6c0"/><path d="M141.91,97.88L145.06,91.68L138.76,91.68Z" fill="#1fa6c0"/><path d="M151.37,96.12L154.52,89.92L148.22,89.92Z" fill="#1fa6c0"/><path d="M160.84,94.21L163.99,88.01L157.69,88.01Z" fill="#1fa6c0"/><path d="M170.30,93.43L173.45,87.23L167.15,87.23Z" fill="#1fa6c0"/><path d="M179.77,93.65L182.92,87.45L176.62,87.45Z" fill="#1fa6c0"/><path d="M189.24,95.69L192.39,89.49L186.09,89.49Z" fill="#1fa6c0"/><path d="M198.70,98.88L201.85,92.68L195.55,92.68Z" fill="#1fa6c0"/><path d="M208.17,101.21L211.32,95.01L205.02,95.01Z" fill="#1fa6c0"/><path d="M217.63,105.56L220.78,99.36L214.48,99.36Z" fill="#1fa6c0"/><path d="M227.10,111.06L230.25,104.86L223.95,104.86Z" fill="#1fa6c0"/><path d="M236.57,117.56L239.72,111.36L233.42,111.36Z" fill="#1fa6c0"/><path d="M246.03,123.77L249.18,117.57L242.88,117.57Z" fill="#1fa6c0"/><path d="M255.50,130.30L258.65,124.10L252.35,124.10Z" fill="#1fa6c0"/><path d="M264.96,137.15L268.11,130.95L261.81,130.95Z" fill="#1fa6c0"/><path d="M274.50,140.85V142.37" stroke="#1fa6c0" stroke-width="1.1" fill="none" stroke-dasharray="3,2,1,2"/><path d="M273.30,140.85h2.4M273.30,142.37h2.4" stroke="#1fa6c0" stroke-width="1.1" fill="none"/><path d="M274.43,144.91L277.58,138.71L271.28,138.71Z" fill="#1fa6c0"/><path d="M283.50,149.05V150.57" stroke="#1fa6c0" stroke-width="1.1" fill="none" stroke-dasharray="3,2,1,2"/><path d="M282.30,149.05h2.4M282.30,150.57h2.4" stroke="#1fa6c0" stroke-width="1.1" fill="none"/><path d="M283.90,153.11L287.05,146.91L280.75,146.91Z" fill="#1fa6c0"/><path d="M293.50,157.98V159.72" stroke="#1fa6c0" stroke-width="1.1" fill="none" stroke-dasharray="3,2,1,2"/><path d="M292.30,157.98h2.4M292.30,159.72h2.4" stroke="#1fa6c0" stroke-width="1.1" fill="none"/><path d="M293.36,162.15L296.51,155.95L290.21,155.95Z" fill="#1fa6c0"/><path d="M302.50,168.56V170.31" stroke="#1fa6c0" stroke-width="1.1" fill="none" stroke-dasharray="3,2,1,2"/><path d="M301.30,168.56h2.4M301.30,170.31h2.4" stroke="#1fa6c0" stroke-width="1.1" fill="none"/><path d="M302.83,172.74L305.98,166.54L299.68,166.54Z" fill="#1fa6c0"/><path d="M312.50,178.01V179.97" stroke="#1fa6c0" stroke-width="1.1" fill="none" stroke-dasharray="3,2,1,2"/><path d="M311.30,178.01h2.4M311.30,179.97h2.4" stroke="#1fa6c0" stroke-width="1.1" fill="none"/><path d="M312.30,182.29L315.44,176.09L309.15,176.09Z" fill="#1fa6c0"/><path d="M321.50,187.98V190.15" stroke="#1fa6c0" stroke-width="1.1" fill="none" stroke-dasharray="3,2,1,2"/><path d="M320.30,187.98h2.4M320.30,190.15h2.4" stroke="#1fa6c0" stroke-width="1.1" fill="none"/><path d="M321.76,192.36L324.91,186.16L318.61,186.16Z" fill="#1fa6c0"/><path d="M331.50,197.08V199.26" stroke="#1fa6c0" stroke-width="1.1" fill="none" stroke-dasharray="3,2,1,2"/><path d="M330.30,197.08h2.4M330.30,199.26h2.4" stroke="#1fa6c0" stroke-width="1.1" fill="none"/><path d="M331.23,201.47L334.38,195.27L328.08,195.27Z" fill="#1fa6c0"/><path d="M340.50,212.57V215.18" stroke="#1fa6c0" stroke-width="1.1" fill="none" stroke-dasharray="3,2,1,2"/><path d="M339.30,212.57h2.4M339.30,215.18h2.4" stroke="#1fa6c0" stroke-width="1.1" fill="none"/><path d="M340.98,217.17L344.13,210.97L337.83,210.97Z" fill="#1fa6c0"/><path d="M350.50,227.38V236.09" stroke="#1fa6c0" stroke-width="1.1" fill="none" stroke-dasharray="3,2,1,2"/><path d="M349.30,227.38h2.4M349.30,236.09h2.4" stroke="#1fa6c0" stroke-width="1.1" fill="none"/><path d="M350.55,235.03L353.70,228.83L347.40,228.83Z" fill="#1fa6c0"/><path d="M360.50,244.09V271.08" stroke="#1fa6c0" stroke-width="1.1" fill="none" stroke-dasharray="3,2,1,2"/><path d="M359.30,244.09h2.4M359.30,271.08h2.4" stroke="#1fa6c0" stroke-width="1.1" fill="none"/><path d="M360.10,260.88L363.25,254.68L356.95,254.68Z" fill="#1fa6c0"/></g>
<g clip-path="url(#cr)"><polyline points="56.71,357.70 66.18,367.10 75.64,380.70 85.11,391.80 94.58,398.60 104.04,404.60 113.51,405.80 122.97,407.50 132.44,406.50 141.91,404.50 151.37,402.50 160.84,400.80 170.30,399.50 179.77,396.50 189.24,394.00 198.70,391.80 208.17,388.40 217.63,385.90 227.10,383.80 236.57,381.70 246.03,380.00 255.50,377.00 264.96,373.20 274.43,370.00 283.90,363.80 293.36,358.20 302.83,347.90 312.30,338.80 321.76,333.00 331.23,328.70 340.98,303.50 350.55,302.00 360.10,281.50" fill="none" stroke="#b8682a" stroke-width="1.3" stroke-dasharray="3,2"/><circle cx="56.71" cy="357.70" r="2.6" fill="none" stroke="#b8682a" stroke-width="1.2"/><circle cx="66.18" cy="367.10" r="2.6" fill="none" stroke="#b8682a" stroke-width="1.2"/><circle cx="75.64" cy="380.70" r="2.6" fill="none" stroke="#b8682a" stroke-width="1.2"/><circle cx="85.11" cy="391.80" r="2.6" fill="none" stroke="#b8682a" stroke-width="1.2"/><circle cx="94.58" cy="398.60" r="2.6" fill="none" stroke="#b8682a" stroke-width="1.2"/><circle cx="104.04" cy="404.60" r="2.6" fill="none" stroke="#b8682a" stroke-width="1.2"/><circle cx="113.51" cy="405.80" r="2.6" fill="none" stroke="#b8682a" stroke-width="1.2"/><circle cx="122.97" cy="407.50" r="2.6" fill="none" stroke="#b8682a" stroke-width="1.2"/><circle cx="132.44" cy="406.50" r="2.6" fill="none" stroke="#b8682a" stroke-width="1.2"/><circle cx="141.91" cy="404.50" r="2.6" fill="none" stroke="#b8682a" stroke-width="1.2"/><circle cx="151.37" cy="402.50" r="2.6" fill="none" stroke="#b8682a" stroke-width="1.2"/><circle cx="160.84" cy="400.80" r="2.6" fill="none" stroke="#b8682a" stroke-width="1.2"/><circle cx="170.30" cy="399.50" r="2.6" fill="none" stroke="#b8682a" stroke-width="1.2"/><circle cx="179.77" cy="396.50" r="2.6" fill="none" stroke="#b8682a" stroke-width="1.2"/><circle cx="189.24" cy="394.00" r="2.6" fill="none" stroke="#b8682a" stroke-width="1.2"/><circle cx="198.70" cy="391.80" r="2.6" fill="none" stroke="#b8682a" stroke-width="1.2"/><circle cx="208.17" cy="388.40" r="2.6" fill="none" stroke="#b8682a" stroke-width="1.2"/><circle cx="217.63" cy="385.90" r="2.6" fill="none" stroke="#b8682a" stroke-width="1.2"/><circle cx="227.10" cy="383.80" r="2.6" fill="none" stroke="#b8682a" stroke-width="1.2"/><circle cx="236.57" cy="381.70" r="2.6" fill="none" stroke="#b8682a" stroke-width="1.2"/><circle cx="246.03" cy="380.00" r="2.6" fill="none" stroke="#b8682a" stroke-width="1.2"/><circle cx="255.50" cy="377.00" r="2.6" fill="none" stroke="#b8682a" stroke-width="1.2"/><circle cx="264.96" cy="373.20" r="2.6" fill="none" stroke="#b8682a" stroke-width="1.2"/><circle cx="274.43" cy="370.00" r="2.6" fill="none" stroke="#b8682a" stroke-width="1.2"/><circle cx="283.90" cy="363.80" r="2.6" fill="none" stroke="#b8682a" stroke-width="1.2"/><path d="M293.50,355.20V361.20" stroke="#b8682a" stroke-width="1.1" fill="none" stroke-dasharray="3,2"/><path d="M292.30,355.20h2.4M292.30,361.20h2.4" stroke="#b8682a" stroke-width="1.1" fill="none"/><circle cx="293.36" cy="358.20" r="2.6" fill="none" stroke="#b8682a" stroke-width="1.2"/><path d="M302.50,344.40V351.40" stroke="#b8682a" stroke-width="1.1" fill="none" stroke-dasharray="3,2"/><path d="M301.30,344.40h2.4M301.30,351.40h2.4" stroke="#b8682a" stroke-width="1.1" fill="none"/><circle cx="302.83" cy="347.90" r="2.6" fill="none" stroke="#b8682a" stroke-width="1.2"/><path d="M312.50,335.30V342.30" stroke="#b8682a" stroke-width="1.1" fill="none" stroke-dasharray="3,2"/><path d="M311.30,335.30h2.4M311.30,342.30h2.4" stroke="#b8682a" stroke-width="1.1" fill="none"/><circle cx="312.30" cy="338.80" r="2.6" fill="none" stroke="#b8682a" stroke-width="1.2"/><path d="M321.50,328.50V337.50" stroke="#b8682a" stroke-width="1.1" fill="none" stroke-dasharray="3,2"/><path d="M320.30,328.50h2.4M320.30,337.50h2.4" stroke="#b8682a" stroke-width="1.1" fill="none"/><circle cx="321.76" cy="333.00" r="2.6" fill="none" stroke="#b8682a" stroke-width="1.2"/><path d="M331.50,321.70V335.70" stroke="#b8682a" stroke-width="1.1" fill="none" stroke-dasharray="3,2"/><path d="M330.30,321.70h2.4M330.30,335.70h2.4" stroke="#b8682a" stroke-width="1.1" fill="none"/><circle cx="331.23" cy="328.70" r="2.6" fill="none" stroke="#b8682a" stroke-width="1.2"/><circle cx="340.98" cy="303.50" r="2.6" fill="none" stroke="#b8682a" stroke-width="1.2"/><circle cx="350.55" cy="302.00" r="2.6" fill="none" stroke="#b8682a" stroke-width="1.2"/><circle cx="360.10" cy="281.50" r="2.6" fill="none" stroke="#b8682a" stroke-width="1.2"/></g><g clip-path="url(#cr)"><polyline points="56.71,387.80 66.18,401.50 75.64,408.60 85.11,416.50 94.58,418.60 104.04,417.50 113.51,415.90 122.97,413.80 132.44,411.00 141.91,407.00 151.37,403.00 160.84,399.50 170.30,396.00 179.77,392.50 189.24,389.00 198.70,386.00 208.17,383.00 217.63,380.10 227.10,378.40 236.57,376.30 246.03,375.50 255.50,373.80 264.96,371.30 274.43,369.60 283.90,370.80 293.36,367.40 302.83,361.70 312.30,353.60 321.76,353.60 331.23,364.20 340.98,345.10 350.55,361.90 360.10,326.60" fill="none" stroke="#4aa52a" stroke-width="1.3" stroke-dasharray="3,2"/><rect x="54.11" y="385.20" width="5.2" height="5.2" fill="none" stroke="#4aa52a" stroke-width="1.3"/><rect x="63.58" y="398.90" width="5.2" height="5.2" fill="none" stroke="#4aa52a" stroke-width="1.3"/><rect x="73.04" y="406.00" width="5.2" height="5.2" fill="none" stroke="#4aa52a" stroke-width="1.3"/><rect x="82.51" y="413.90" width="5.2" height="5.2" fill="none" stroke="#4aa52a" stroke-width="1.3"/><rect x="91.98" y="416.00" width="5.2" height="5.2" fill="none" stroke="#4aa52a" stroke-width="1.3"/><rect x="101.44" y="414.90" width="5.2" height="5.2" fill="none" stroke="#4aa52a" stroke-width="1.3"/><rect x="110.91" y="413.30" width="5.2" height="5.2" fill="none" stroke="#4aa52a" stroke-width="1.3"/><rect x="120.38" y="411.20" width="5.2" height="5.2" fill="none" stroke="#4aa52a" stroke-width="1.3"/><rect x="129.84" y="408.40" width="5.2" height="5.2" fill="none" stroke="#4aa52a" stroke-width="1.3"/><rect x="139.31" y="404.40" width="5.2" height="5.2" fill="none" stroke="#4aa52a" stroke-width="1.3"/><rect x="148.77" y="400.40" width="5.2" height="5.2" fill="none" stroke="#4aa52a" stroke-width="1.3"/><rect x="158.24" y="396.90" width="5.2" height="5.2" fill="none" stroke="#4aa52a" stroke-width="1.3"/><rect x="167.70" y="393.40" width="5.2" height="5.2" fill="none" stroke="#4aa52a" stroke-width="1.3"/><rect x="177.17" y="389.90" width="5.2" height="5.2" fill="none" stroke="#4aa52a" stroke-width="1.3"/><rect x="186.64" y="386.40" width="5.2" height="5.2" fill="none" stroke="#4aa52a" stroke-width="1.3"/><rect x="196.10" y="383.40" width="5.2" height="5.2" fill="none" stroke="#4aa52a" stroke-width="1.3"/><rect x="205.57" y="380.40" width="5.2" height="5.2" fill="none" stroke="#4aa52a" stroke-width="1.3"/><rect x="215.03" y="377.50" width="5.2" height="5.2" fill="none" stroke="#4aa52a" stroke-width="1.3"/><rect x="224.50" y="375.80" width="5.2" height="5.2" fill="none" stroke="#4aa52a" stroke-width="1.3"/><rect x="233.97" y="373.70" width="5.2" height="5.2" fill="none" stroke="#4aa52a" stroke-width="1.3"/><rect x="243.43" y="372.90" width="5.2" height="5.2" fill="none" stroke="#4aa52a" stroke-width="1.3"/><rect x="252.90" y="371.20" width="5.2" height="5.2" fill="none" stroke="#4aa52a" stroke-width="1.3"/><rect x="262.36" y="368.70" width="5.2" height="5.2" fill="none" stroke="#4aa52a" stroke-width="1.3"/><rect x="271.83" y="367.00" width="5.2" height="5.2" fill="none" stroke="#4aa52a" stroke-width="1.3"/><rect x="281.30" y="368.20" width="5.2" height="5.2" fill="none" stroke="#4aa52a" stroke-width="1.3"/><rect x="290.76" y="364.80" width="5.2" height="5.2" fill="none" stroke="#4aa52a" stroke-width="1.3"/><path d="M302.50,358.20V365.20" stroke="#4aa52a" stroke-width="1.1" fill="none" stroke-dasharray="3,2"/><path d="M301.30,358.20h2.4M301.30,365.20h2.4" stroke="#4aa52a" stroke-width="1.1" fill="none"/><rect x="300.23" y="359.10" width="5.2" height="5.2" fill="none" stroke="#4aa52a" stroke-width="1.3"/><path d="M312.50,349.10V358.10" stroke="#4aa52a" stroke-width="1.1" fill="none" stroke-dasharray="3,2"/><path d="M311.30,349.10h2.4M311.30,358.10h2.4" stroke="#4aa52a" stroke-width="1.1" fill="none"/><rect x="309.69" y="351.00" width="5.2" height="5.2" fill="none" stroke="#4aa52a" stroke-width="1.3"/><path d="M321.50,348.10V359.10" stroke="#4aa52a" stroke-width="1.1" fill="none" stroke-dasharray="3,2"/><path d="M320.30,348.10h2.4M320.30,359.10h2.4" stroke="#4aa52a" stroke-width="1.1" fill="none"/><rect x="319.16" y="351.00" width="5.2" height="5.2" fill="none" stroke="#4aa52a" stroke-width="1.3"/><path d="M331.50,358.20V370.20" stroke="#4aa52a" stroke-width="1.1" fill="none" stroke-dasharray="3,2"/><path d="M330.30,358.20h2.4M330.30,370.20h2.4" stroke="#4aa52a" stroke-width="1.1" fill="none"/><rect x="328.63" y="361.60" width="5.2" height="5.2" fill="none" stroke="#4aa52a" stroke-width="1.3"/><path d="M340.50,335.10V355.10" stroke="#4aa52a" stroke-width="1.1" fill="none" stroke-dasharray="3,2"/><path d="M339.30,335.10h2.4M339.30,355.10h2.4" stroke="#4aa52a" stroke-width="1.1" fill="none"/><rect x="338.38" y="342.50" width="5.2" height="5.2" fill="none" stroke="#4aa52a" stroke-width="1.3"/><path d="M350.50,351.90V371.90" stroke="#4aa52a" stroke-width="1.1" fill="none" stroke-dasharray="3,2"/><path d="M349.30,351.90h2.4M349.30,371.90h2.4" stroke="#4aa52a" stroke-width="1.1" fill="none"/><rect x="347.95" y="359.30" width="5.2" height="5.2" fill="none" stroke="#4aa52a" stroke-width="1.3"/><path d="M360.50,314.60V338.60" stroke="#4aa52a" stroke-width="1.1" fill="none" stroke-dasharray="3,2"/><path d="M359.30,314.60h2.4M359.30,338.60h2.4" stroke="#4aa52a" stroke-width="1.1" fill="none"/><rect x="357.50" y="324.00" width="5.2" height="5.2" fill="none" stroke="#4aa52a" stroke-width="1.3"/></g><g clip-path="url(#cr)"><polyline points="56.71,435.10 66.18,438.20 75.64,434.60 85.11,432.10 94.58,426.70 104.04,421.70 113.51,417.50 122.97,414.50 132.44,411.80 141.91,407.40 151.37,404.80 160.84,400.30 170.30,397.30 179.77,394.50 189.24,390.90 198.70,388.20 208.17,385.50 217.63,383.20 227.10,380.00 236.57,378.00 246.03,378.40 255.50,379.40 264.96,380.00 274.43,382.20 283.90,384.60 293.36,385.70 302.83,388.00 312.30,389.30 321.76,386.50 331.23,379.40 340.98,376.10 350.55,378.30 360.10,362.50" fill="none" stroke="#0000ff" stroke-width="1.3"/><path d="M56.50,430.70V439.50" stroke="#0000ff" stroke-width="1.1" fill="none"/><path d="M55.30,430.70h2.4M55.30,439.50h2.4" stroke="#0000ff" stroke-width="1.1" fill="none"/><path d="M56.71,431.80L59.86,438.00L53.56,438.00Z" fill="#0000ff"/><path d="M66.50,434.20V442.20" stroke="#0000ff" stroke-width="1.1" fill="none"/><path d="M65.30,434.20h2.4M65.30,442.20h2.4" stroke="#0000ff" stroke-width="1.1" fill="none"/><path d="M66.18,434.90L69.33,441.10L63.03,441.10Z" fill="#0000ff"/><path d="M75.64,431.30L78.79,437.50L72.49,437.50Z" fill="#0000ff"/><path d="M85.11,428.80L88.26,435.00L81.96,435.00Z" fill="#0000ff"/><path d="M94.58,423.40L97.73,429.60L91.43,429.60Z" fill="#0000ff"/><path d="M104.04,418.40L107.19,424.60L100.89,424.60Z" fill="#0000ff"/><path d="M113.51,414.20L116.66,420.40L110.36,420.40Z" fill="#0000ff"/><path d="M122.97,411.20L126.12,417.40L119.82,417.40Z" fill="#0000ff"/><path d="M132.44,408.50L135.59,414.70L129.29,414.70Z" fill="#0000ff"/><path d="M141.91,404.10L145.06,410.30L138.76,410.30Z" fill="#0000ff"/><path d="M151.37,401.50L154.52,407.70L148.22,407.70Z" fill="#0000ff"/><path d="M160.84,397.00L163.99,403.20L157.69,403.20Z" fill="#0000ff"/><path d="M170.30,394.00L173.45,400.20L167.15,400.20Z" fill="#0000ff"/><path d="M179.77,391.20L182.92,397.40L176.62,397.40Z" fill="#0000ff"/><path d="M189.24,387.60L192.39,393.80L186.09,393.80Z" fill="#0000ff"/><path d="M198.70,384.90L201.85,391.10L195.55,391.10Z" fill="#0000ff"/><path d="M208.17,382.20L211.32,388.40L205.02,388.40Z" fill="#0000ff"/><path d="M217.63,379.90L220.78,386.10L214.48,386.10Z" fill="#0000ff"/><path d="M227.10,376.70L230.25,382.90L223.95,382.90Z" fill="#0000ff"/><path d="M236.57,374.70L239.72,380.90L233.42,380.90Z" fill="#0000ff"/><path d="M246.03,375.10L249.18,381.30L242.88,381.30Z" fill="#0000ff"/><path d="M255.50,376.10L258.65,382.30L252.35,382.30Z" fill="#0000ff"/><path d="M264.96,376.70L268.11,382.90L261.81,382.90Z" fill="#0000ff"/><path d="M274.43,378.90L277.58,385.10L271.28,385.10Z" fill="#0000ff"/><path d="M283.50,381.60V387.60" stroke="#0000ff" stroke-width="1.1" fill="none"/><path d="M282.30,381.60h2.4M282.30,387.60h2.4" stroke="#0000ff" stroke-width="1.1" fill="none"/><path d="M283.90,381.30L287.05,387.50L280.75,387.50Z" fill="#0000ff"/><path d="M293.50,382.20V389.20" stroke="#0000ff" stroke-width="1.1" fill="none"/><path d="M292.30,382.20h2.4M292.30,389.20h2.4" stroke="#0000ff" stroke-width="1.1" fill="none"/><path d="M293.36,382.40L296.51,388.60L290.21,388.60Z" fill="#0000ff"/><path d="M302.50,384.00V392.00" stroke="#0000ff" stroke-width="1.1" fill="none"/><path d="M301.30,384.00h2.4M301.30,392.00h2.4" stroke="#0000ff" stroke-width="1.1" fill="none"/><path d="M302.83,384.70L305.98,390.90L299.68,390.90Z" fill="#0000ff"/><path d="M312.50,384.80V393.80" stroke="#0000ff" stroke-width="1.1" fill="none"/><path d="M311.30,384.80h2.4M311.30,393.80h2.4" stroke="#0000ff" stroke-width="1.1" fill="none"/><path d="M312.30,386.00L315.44,392.20L309.15,392.20Z" fill="#0000ff"/><path d="M321.50,381.00V392.00" stroke="#0000ff" stroke-width="1.1" fill="none"/><path d="M320.30,381.00h2.4M320.30,392.00h2.4" stroke="#0000ff" stroke-width="1.1" fill="none"/><path d="M321.76,383.20L324.91,389.40L318.61,389.40Z" fill="#0000ff"/><path d="M331.50,373.40V385.40" stroke="#0000ff" stroke-width="1.1" fill="none"/><path d="M330.30,373.40h2.4M330.30,385.40h2.4" stroke="#0000ff" stroke-width="1.1" fill="none"/><path d="M331.23,376.10L334.38,382.30L328.08,382.30Z" fill="#0000ff"/><path d="M340.50,360.10V392.60" stroke="#0000ff" stroke-width="1.1" fill="none"/><path d="M339.30,360.10h2.4M339.30,392.60h2.4" stroke="#0000ff" stroke-width="1.1" fill="none"/><path d="M340.98,372.80L344.13,379.00L337.83,379.00Z" fill="#0000ff"/><path d="M350.50,313.30V405.30" stroke="#0000ff" stroke-width="1.1" fill="none"/><path d="M349.30,313.30h2.4M349.30,405.30h2.4" stroke="#0000ff" stroke-width="1.1" fill="none"/><path d="M350.55,375.00L353.70,381.20L347.40,381.20Z" fill="#0000ff"/><path d="M360.50,317.50V407.50" stroke="#0000ff" stroke-width="1.1" fill="none"/><path d="M359.30,317.50h2.4M359.30,407.50h2.4" stroke="#0000ff" stroke-width="1.1" fill="none"/><path d="M360.10,359.20L363.25,365.40L356.95,365.40Z" fill="#0000ff"/></g><g clip-path="url(#cr)"><polyline points="56.71,451.40 66.18,447.20 75.64,441.50 85.11,437.90 94.58,431.50 104.04,426.30 113.51,419.60 122.97,415.00 132.44,409.90 141.91,407.40 151.37,404.00 160.84,400.00 170.30,396.50 179.77,393.00 189.24,390.50 198.70,389.00 208.17,389.00 217.63,386.00 227.10,386.50 236.57,386.00 246.03,387.50 255.50,389.50 264.96,391.50 274.43,394.50 283.90,403.00 293.36,410.20 302.83,411.80 312.30,412.90 321.76,417.00 331.23,417.60 340.98,352.90 350.55,340.30 360.10,300.00" fill="none" stroke="#1e9ec8" stroke-width="1.3" stroke-dasharray="3,2,1,2"/><path d="M56.50,446.40V456.40" stroke="#1e9ec8" stroke-width="1.1" fill="none" stroke-dasharray="3,2,1,2"/><path d="M55.30,446.40h2.4M55.30,456.40h2.4" stroke="#1e9ec8" stroke-width="1.1" fill="none"/><path d="M56.71,454.70L59.86,448.50L53.56,448.50Z" fill="#1e9ec8"/><path d="M66.50,442.70V451.70" stroke="#1e9ec8" stroke-width="1.1" fill="none" stroke-dasharray="3,2,1,2"/><path d="M65.30,442.70h2.4M65.30,451.70h2.4" stroke="#1e9ec8" stroke-width="1.1" fill="none"/><path d="M66.18,450.50L69.33,444.30L63.03,444.30Z" fill="#1e9ec8"/><path d="M75.64,444.80L78.79,438.60L72.49,438.60Z" fill="#1e9ec8"/><path d="M85.11,441.20L88.26,435.00L81.96,435.00Z" fill="#1e9ec8"/><path d="M94.58,434.80L97.73,428.60L91.43,428.60Z" fill="#1e9ec8"/><path d="M104.04,429.60L107.19,423.40L100.89,423.40Z" fill="#1e9ec8"/><path d="M113.51,422.90L116.66,416.70L110.36,416.70Z" fill="#1e9ec8"/><path d="M122.97,418.30L126.12,412.10L119.82,412.10Z" fill="#1e9ec8"/><path d="M132.44,413.20L135.59,407.00L129.29,407.00Z" fill="#1e9ec8"/><path d="M141.91,410.70L145.06,404.50L138.76,404.50Z" fill="#1e9ec8"/><path d="M151.37,407.30L154.52,401.10L148.22,401.10Z" fill="#1e9ec8"/><path d="M160.84,403.30L163.99,397.10L157.69,397.10Z" fill="#1e9ec8"/><path d="M170.30,399.80L173.45,393.60L167.15,393.60Z" fill="#1e9ec8"/><path d="M179.77,396.30L182.92,390.10L176.62,390.10Z" fill="#1e9ec8"/><path d="M189.24,393.80L192.39,387.60L186.09,387.60Z" fill="#1e9ec8"/><path d="M198.70,392.30L201.85,386.10L195.55,386.10Z" fill="#1e9ec8"/><path d="M208.17,392.30L211.32,386.10L205.02,386.10Z" fill="#1e9ec8"/><path d="M217.63,389.30L220.78,383.10L214.48,383.10Z" fill="#1e9ec8"/><path d="M227.10,389.80L230.25,383.60L223.95,383.60Z" fill="#1e9ec8"/><path d="M236.57,389.30L239.72,383.10L233.42,383.10Z" fill="#1e9ec8"/><path d="M246.03,390.80L249.18,384.60L242.88,384.60Z" fill="#1e9ec8"/><path d="M255.50,392.80L258.65,386.60L252.35,386.60Z" fill="#1e9ec8"/><path d="M264.96,394.80L268.11,388.60L261.81,388.60Z" fill="#1e9ec8"/><path d="M274.50,390.50V398.50" stroke="#1e9ec8" stroke-width="1.1" fill="none" stroke-dasharray="3,2,1,2"/><path d="M273.30,390.50h2.4M273.30,398.50h2.4" stroke="#1e9ec8" stroke-width="1.1" fill="none"/><path d="M274.43,397.80L277.58,391.60L271.28,391.60Z" fill="#1e9ec8"/><path d="M283.50,398.50V407.50" stroke="#1e9ec8" stroke-width="1.1" fill="none" stroke-dasharray="3,2,1,2"/><path d="M282.30,398.50h2.4M282.30,407.50h2.4" stroke="#1e9ec8" stroke-width="1.1" fill="none"/><path d="M283.90,406.30L287.05,400.10L280.75,400.10Z" fill="#1e9ec8"/><path d="M293.50,405.20V415.20" stroke="#1e9ec8" stroke-width="1.1" fill="none" stroke-dasharray="3,2,1,2"/><path d="M292.30,405.20h2.4M292.30,415.20h2.4" stroke="#1e9ec8" stroke-width="1.1" fill="none"/><path d="M293.36,413.50L296.51,407.30L290.21,407.30Z" fill="#1e9ec8"/><path d="M302.50,405.80V417.80" stroke="#1e9ec8" stroke-width="1.1" fill="none" stroke-dasharray="3,2,1,2"/><path d="M301.30,405.80h2.4M301.30,417.80h2.4" stroke="#1e9ec8" stroke-width="1.1" fill="none"/><path d="M302.83,415.10L305.98,408.90L299.68,408.90Z" fill="#1e9ec8"/><path d="M312.50,406.40V419.40" stroke="#1e9ec8" stroke-width="1.1" fill="none" stroke-dasharray="3,2,1,2"/><path d="M311.30,406.40h2.4M311.30,419.40h2.4" stroke="#1e9ec8" stroke-width="1.1" fill="none"/><path d="M312.30,416.20L315.44,410.00L309.15,410.00Z" fill="#1e9ec8"/><path d="M321.50,410.00V424.00" stroke="#1e9ec8" stroke-width="1.1" fill="none" stroke-dasharray="3,2,1,2"/><path d="M320.30,410.00h2.4M320.30,424.00h2.4" stroke="#1e9ec8" stroke-width="1.1" fill="none"/><path d="M321.76,420.30L324.91,414.10L318.61,414.10Z" fill="#1e9ec8"/><path d="M331.50,409.60V425.60" stroke="#1e9ec8" stroke-width="1.1" fill="none" stroke-dasharray="3,2,1,2"/><path d="M330.30,409.60h2.4M330.30,425.60h2.4" stroke="#1e9ec8" stroke-width="1.1" fill="none"/><path d="M331.23,420.90L334.38,414.70L328.08,414.70Z" fill="#1e9ec8"/><path d="M340.50,337.90V367.90" stroke="#1e9ec8" stroke-width="1.1" fill="none" stroke-dasharray="3,2,1,2"/><path d="M339.30,337.90h2.4M339.30,367.90h2.4" stroke="#1e9ec8" stroke-width="1.1" fill="none"/><path d="M340.98,356.20L344.13,350.00L337.83,350.00Z" fill="#1e9ec8"/><path d="M350.50,320.30V360.30" stroke="#1e9ec8" stroke-width="1.1" fill="none" stroke-dasharray="3,2,1,2"/><path d="M349.30,320.30h2.4M349.30,360.30h2.4" stroke="#1e9ec8" stroke-width="1.1" fill="none"/><path d="M350.55,343.60L353.70,337.40L347.40,337.40Z" fill="#1e9ec8"/><path d="M360.50,270.00V330.00" stroke="#1e9ec8" stroke-width="1.1" fill="none" stroke-dasharray="3,2,1,2"/><path d="M359.30,270.00h2.4M359.30,330.00h2.4" stroke="#1e9ec8" stroke-width="1.1" fill="none"/><path d="M360.10,303.30L363.25,297.10L356.95,297.10Z" fill="#1e9ec8"/></g><g clip-path="url(#cr)"><polyline points="56.71,379.70 66.18,390.40 75.64,399.80 85.11,409.20 94.58,415.20 104.04,419.60 113.51,420.70 122.97,421.70 132.44,419.50 141.91,418.00 151.37,414.40 160.84,408.60 170.30,403.10 179.77,398.40 189.24,390.30 198.70,384.10 208.17,376.60 217.63,369.60 227.10,362.80 236.57,355.70 246.03,350.90 255.50,347.70 264.96,346.10 274.43,347.30 283.90,350.50 293.36,351.20 302.83,355.60 312.30,358.20 321.76,354.10 331.23,363.90 340.98,345.50 350.55,330.00 360.10,326.40" fill="none" stroke="#ff0000" stroke-width="1.2" stroke-dasharray="1.2,1.3"/><path d="M56.71,375.90L59.16,379.70L56.71,383.50L54.26,379.70Z" fill="#ff0000"/><path d="M66.18,386.60L68.63,390.40L66.18,394.20L63.73,390.40Z" fill="#ff0000"/><path d="M75.64,396.00L78.09,399.80L75.64,403.60L73.19,399.80Z" fill="#ff0000"/><path d="M85.11,405.40L87.56,409.20L85.11,413.00L82.66,409.20Z" fill="#ff0000"/><path d="M94.58,411.40L97.03,415.20L94.58,419.00L92.13,415.20Z" fill="#ff0000"/><path d="M104.04,415.80L106.49,419.60L104.04,423.40L101.59,419.60Z" fill="#ff0000"/><path d="M113.51,416.90L115.96,420.70L113.51,424.50L111.06,420.70Z" fill="#ff0000"/><path d="M122.97,417.90L125.42,421.70L122.97,425.50L120.52,421.70Z" fill="#ff0000"/><path d="M132.44,415.70L134.89,419.50L132.44,423.30L129.99,419.50Z" fill="#ff0000"/><path d="M141.91,414.20L144.36,418.00L141.91,421.80L139.46,418.00Z" fill="#ff0000"/><path d="M151.37,410.60L153.82,414.40L151.37,418.20L148.92,414.40Z" fill="#ff0000"/><path d="M160.84,404.80L163.29,408.60L160.84,412.40L158.39,408.60Z" fill="#ff0000"/><path d="M170.30,399.30L172.75,403.10L170.30,406.90L167.85,403.10Z" fill="#ff0000"/><path d="M179.77,394.60L182.22,398.40L179.77,402.20L177.32,398.40Z" fill="#ff0000"/><path d="M189.24,386.50L191.69,390.30L189.24,394.10L186.79,390.30Z" fill="#ff0000"/><path d="M198.70,380.30L201.15,384.10L198.70,387.90L196.25,384.10Z" fill="#ff0000"/><path d="M208.17,372.80L210.62,376.60L208.17,380.40L205.72,376.60Z" fill="#ff0000"/><path d="M217.63,365.80L220.08,369.60L217.63,373.40L215.19,369.60Z" fill="#ff0000"/><path d="M227.10,359.00L229.55,362.80L227.10,366.60L224.65,362.80Z" fill="#ff0000"/><path d="M236.57,351.90L239.02,355.70L236.57,359.50L234.12,355.70Z" fill="#ff0000"/><path d="M246.03,347.10L248.48,350.90L246.03,354.70L243.58,350.90Z" fill="#ff0000"/><path d="M255.50,343.90L257.95,347.70L255.50,351.50L253.05,347.70Z" fill="#ff0000"/><path d="M264.96,342.30L267.41,346.10L264.96,349.90L262.51,346.10Z" fill="#ff0000"/><path d="M274.43,343.50L276.88,347.30L274.43,351.10L271.98,347.30Z" fill="#ff0000"/><path d="M283.90,346.70L286.35,350.50L283.90,354.30L281.45,350.50Z" fill="#ff0000"/><path d="M293.50,347.70V354.70" stroke="#ff0000" stroke-width="1.1" fill="none" stroke-dasharray="1.2,1.3"/><path d="M292.30,347.70h2.4M292.30,354.70h2.4" stroke="#ff0000" stroke-width="1.1" fill="none"/><path d="M293.36,347.40L295.81,351.20L293.36,355.00L290.91,351.20Z" fill="#ff0000"/><path d="M302.50,351.10V360.10" stroke="#ff0000" stroke-width="1.1" fill="none" stroke-dasharray="1.2,1.3"/><path d="M301.30,351.10h2.4M301.30,360.10h2.4" stroke="#ff0000" stroke-width="1.1" fill="none"/><path d="M302.83,351.80L305.28,355.60L302.83,359.40L300.38,355.60Z" fill="#ff0000"/><path d="M312.50,353.20V363.20" stroke="#ff0000" stroke-width="1.1" fill="none" stroke-dasharray="1.2,1.3"/><path d="M311.30,353.20h2.4M311.30,363.20h2.4" stroke="#ff0000" stroke-width="1.1" fill="none"/><path d="M312.30,354.40L314.75,358.20L312.30,362.00L309.85,358.20Z" fill="#ff0000"/><path d="M321.50,347.10V361.10" stroke="#ff0000" stroke-width="1.1" fill="none" stroke-dasharray="1.2,1.3"/><path d="M320.30,347.10h2.4M320.30,361.10h2.4" stroke="#ff0000" stroke-width="1.1" fill="none"/><path d="M321.76,350.30L324.21,354.10L321.76,357.90L319.31,354.10Z" fill="#ff0000"/><path d="M331.50,356.90V370.90" stroke="#ff0000" stroke-width="1.1" fill="none" stroke-dasharray="1.2,1.3"/><path d="M330.30,356.90h2.4M330.30,370.90h2.4" stroke="#ff0000" stroke-width="1.1" fill="none"/><path d="M331.23,360.10L333.68,363.90L331.23,367.70L328.78,363.90Z" fill="#ff0000"/><path d="M350.50,318.00V342.00" stroke="#ff0000" stroke-width="1.1" fill="none" stroke-dasharray="1.2,1.3"/><path d="M349.30,318.00h2.4M349.30,342.00h2.4" stroke="#ff0000" stroke-width="1.1" fill="none"/><path d="M350.55,326.20L353.00,330.00L350.55,333.80L348.10,330.00Z" fill="#ff0000"/><path d="M360.50,266.40V386.40" stroke="#ff0000" stroke-width="1.1" fill="none" stroke-dasharray="1.2,1.3"/><path d="M359.30,266.40h2.4M359.30,386.40h2.4" stroke="#ff0000" stroke-width="1.1" fill="none"/><path d="M360.10,322.60L362.55,326.40L360.10,330.20L357.65,326.40Z" fill="#ff0000"/></g><g clip-path="url(#cr)"><polyline points="56.71,414.80 66.18,409.30 75.64,412.00 85.11,413.00 94.58,411.70 104.04,411.30 113.51,410.00 122.97,407.40 132.44,405.40 141.91,403.50 151.37,402.30 160.84,397.20 170.30,394.50 179.77,392.30 189.24,390.20 198.70,388.80 208.17,384.80 217.63,385.00 227.10,385.00 236.57,385.00 246.03,386.00 255.50,387.50 264.96,390.00 274.43,393.50 283.90,395.80 293.36,399.20 302.83,399.60 312.30,400.30 321.76,393.30 331.23,386.90 340.98,376.80 350.55,378.00 360.10,396.60" fill="none" stroke="#1fa6c0" stroke-width="1.3" stroke-dasharray="3,2,1,2"/><path d="M56.50,410.60V419.00" stroke="#1fa6c0" stroke-width="1.1" fill="none" stroke-dasharray="3,2,1,2"/><path d="M55.30,410.60h2.4M55.30,419.00h2.4" stroke="#1fa6c0" stroke-width="1.1" fill="none"/><path d="M56.71,418.10L59.86,411.90L53.56,411.90Z" fill="#1fa6c0"/><path d="M66.18,412.60L69.33,406.40L63.03,406.40Z" fill="#1fa6c0"/><path d="M75.64,415.30L78.79,409.10L72.49,409.10Z" fill="#1fa6c0"/><path d="M85.11,416.30L88.26,410.10L81.96,410.10Z" fill="#1fa6c0"/><path d="M94.58,415.00L97.73,408.80L91.43,408.80Z" fill="#1fa6c0"/><path d="M104.04,414.60L107.19,408.40L100.89,408.40Z" fill="#1fa6c0"/><path d="M113.51,413.30L116.66,407.10L110.36,407.10Z" fill="#1fa6c0"/><path d="M122.97,410.70L126.12,404.50L119.82,404.50Z" fill="#1fa6c0"/><path d="M132.44,408.70L135.59,402.50L129.29,402.50Z" fill="#1fa6c0"/><path d="M141.91,406.80L145.06,400.60L138.76,400.60Z" fill="#1fa6c0"/><path d="M151.37,405.60L154.52,399.40L148.22,399.40Z" fill="#1fa6c0"/><path d="M160.84,400.50L163.99,394.30L157.69,394.30Z" fill="#1fa6c0"/><path d="M170.30,397.80L173.45,391.60L167.15,391.60Z" fill="#1fa6c0"/><path d="M179.77,395.60L182.92,389.40L176.62,389.40Z" fill="#1fa6c0"/><path d="M189.24,393.50L192.39,387.30L186.09,387.30Z" fill="#1fa6c0"/><path d="M198.70,392.10L201.85,385.90L195.55,385.90Z" fill="#1fa6c0"/><path d="M208.17,388.10L211.32,381.90L205.02,381.90Z" fill="#1fa6c0"/><path d="M217.63,388.30L220.78,382.10L214.48,382.10Z" fill="#1fa6c0"/><path d="M227.10,388.30L230.25,382.10L223.95,382.10Z" fill="#1fa6c0"/><path d="M236.57,388.30L239.72,382.10L233.42,382.10Z" fill="#1fa6c0"/><path d="M246.03,389.30L249.18,383.10L242.88,383.10Z" fill="#1fa6c0"/><path d="M255.50,390.80L258.65,384.60L252.35,384.60Z" fill="#1fa6c0"/><path d="M264.96,393.30L268.11,387.10L261.81,387.10Z" fill="#1fa6c0"/><path d="M274.50,390.00V397.00" stroke="#1fa6c0" stroke-width="1.1" fill="none" stroke-dasharray="3,2,1,2"/><path d="M273.30,390.00h2.4M273.30,397.00h2.4" stroke="#1fa6c0" stroke-width="1.1" fill="none"/><path d="M274.43,396.80L277.58,390.60L271.28,390.60Z" fill="#1fa6c0"/><path d="M283.50,392.30V399.30" stroke="#1fa6c0" stroke-width="1.1" fill="none" stroke-dasharray="3,2,1,2"/><path d="M282.30,392.30h2.4M282.30,399.30h2.4" stroke="#1fa6c0" stroke-width="1.1" fill="none"/><path d="M283.90,399.10L287.05,392.90L280.75,392.90Z" fill="#1fa6c0"/><path d="M293.50,395.20V403.20" stroke="#1fa6c0" stroke-width="1.1" fill="none" stroke-dasharray="3,2,1,2"/><path d="M292.30,395.20h2.4M292.30,403.20h2.4" stroke="#1fa6c0" stroke-width="1.1" fill="none"/><path d="M293.36,402.50L296.51,396.30L290.21,396.30Z" fill="#1fa6c0"/><path d="M302.50,395.60V403.60" stroke="#1fa6c0" stroke-width="1.1" fill="none" stroke-dasharray="3,2,1,2"/><path d="M301.30,395.60h2.4M301.30,403.60h2.4" stroke="#1fa6c0" stroke-width="1.1" fill="none"/><path d="M302.83,402.90L305.98,396.70L299.68,396.70Z" fill="#1fa6c0"/><path d="M312.50,395.80V404.80" stroke="#1fa6c0" stroke-width="1.1" fill="none" stroke-dasharray="3,2,1,2"/><path d="M311.30,395.80h2.4M311.30,404.80h2.4" stroke="#1fa6c0" stroke-width="1.1" fill="none"/><path d="M312.30,403.60L315.44,397.40L309.15,397.40Z" fill="#1fa6c0"/><path d="M321.50,388.30V398.30" stroke="#1fa6c0" stroke-width="1.1" fill="none" stroke-dasharray="3,2,1,2"/><path d="M320.30,388.30h2.4M320.30,398.30h2.4" stroke="#1fa6c0" stroke-width="1.1" fill="none"/><path d="M321.76,396.60L324.91,390.40L318.61,390.40Z" fill="#1fa6c0"/><path d="M331.50,381.90V391.90" stroke="#1fa6c0" stroke-width="1.1" fill="none" stroke-dasharray="3,2,1,2"/><path d="M330.30,381.90h2.4M330.30,391.90h2.4" stroke="#1fa6c0" stroke-width="1.1" fill="none"/><path d="M331.23,390.20L334.38,384.00L328.08,384.00Z" fill="#1fa6c0"/><path d="M340.50,370.80V382.80" stroke="#1fa6c0" stroke-width="1.1" fill="none" stroke-dasharray="3,2,1,2"/><path d="M339.30,370.80h2.4M339.30,382.80h2.4" stroke="#1fa6c0" stroke-width="1.1" fill="none"/><path d="M340.98,380.10L344.13,373.90L337.83,373.90Z" fill="#1fa6c0"/><path d="M350.50,358.00V398.00" stroke="#1fa6c0" stroke-width="1.1" fill="none" stroke-dasharray="3,2,1,2"/><path d="M349.30,358.00h2.4M349.30,398.00h2.4" stroke="#1fa6c0" stroke-width="1.1" fill="none"/><path d="M350.55,381.30L353.70,375.10L347.40,375.10Z" fill="#1fa6c0"/><path d="M360.50,334.60V458.60" stroke="#1fa6c0" stroke-width="1.1" fill="none" stroke-dasharray="3,2,1,2"/><path d="M359.30,334.60h2.4M359.30,458.60h2.4" stroke="#1fa6c0" stroke-width="1.1" fill="none"/><path d="M360.10,399.90L363.25,393.70L356.95,393.70Z" fill="#1fa6c0"/></g>
<path d="M45.5,17.5H371.0V478.0H45.5Z M45.5,317.5H371.0" fill="none" stroke="#000" stroke-width="1"/><line x1="45.0" y1="478.0" x2="371.5" y2="478.0" stroke="#000" stroke-width="2"/><line x1="371.0" y1="17.0" x2="371.0" y2="478.0" stroke="#000" stroke-width="1.5"/><path d="M51.50,17.5v8M51.50,317.5v-8M51.50,317.5v5M51.50,478.0v-5M75.50,17.5v4M75.50,317.5v-4M75.50,317.5v3M75.50,478.0v-3M99.50,17.5v4M99.50,317.5v-4M99.50,317.5v3M99.50,478.0v-3M122.50,17.5v4M122.50,317.5v-4M122.50,317.5v3M122.50,478.0v-3M146.50,17.5v8M146.50,317.5v-8M146.50,317.5v5M146.50,478.0v-5M170.50,17.5v4M170.50,317.5v-4M170.50,317.5v3M170.50,478.0v-3M193.50,17.5v4M193.50,317.5v-4M193.50,317.5v3M193.50,478.0v-3M217.50,17.5v4M217.50,317.5v-4M217.50,317.5v3M217.50,478.0v-3M241.50,17.5v8M241.50,317.5v-8M241.50,317.5v5M241.50,478.0v-5M264.50,17.5v4M264.50,317.5v-4M264.50,317.5v3M264.50,478.0v-3M288.50,17.5v4M288.50,317.5v-4M288.50,317.5v3M288.50,478.0v-3M312.50,17.5v4M312.50,317.5v-4M312.50,317.5v3M312.50,478.0v-3M335.50,17.5v8M335.50,317.5v-8M335.50,317.5v5M335.50,478.0v-5M359.50,17.5v4M359.50,317.5v-4M359.50,317.5v3M359.50,478.0v-3M45.5,313.50h6M371.0,313.50h-6M45.5,305.50h6M371.0,305.50h-6M45.5,300.50h6M371.0,300.50h-6M45.5,296.50h6M371.0,296.50h-6M45.5,292.50h6M371.0,292.50h-6M45.5,289.50h6M371.0,289.50h-6M45.5,287.50h6M371.0,287.50h-6M45.5,285.50h6M371.0,285.50h-6M45.5,283.50h11M371.0,283.50h-11M45.5,269.50h6M371.0,269.50h-6M45.5,262.50h6M371.0,262.50h-6M45.5,256.50h6M371.0,256.50h-6M45.5,252.50h6M371.0,252.50h-6M45.5,249.50h6M371.0,249.50h-6M45.5,246.50h6M371.0,246.50h-6M45.5,243.50h6M371.0,243.50h-6M45.5,241.50h6M371.0,241.50h-6M45.5,239.50h11M371.0,239.50h-11M45.5,226.50h6M371.0,226.50h-6M45.5,218.50h6M371.0,218.50h-6M45.5,213.50h6M371.0,213.50h-6M45.5,209.50h6M371.0,209.50h-6M45.5,205.50h6M371.0,205.50h-6M45.5,202.50h6M371.0,202.50h-6M45.5,200.50h6M371.0,200.50h-6M45.5,197.50h6M371.0,197.50h-6M45.5,195.50h11M371.0,195.50h-11M45.5,182.50h6M371.0,182.50h-6M45.5,175.50h6M371.0,175.50h-6M45.5,169.50h6M371.0,169.50h-6M45.5,165.50h6M371.0,165.50h-6M45.5,161.50h6M371.0,161.50h-6M45.5,159.50h6M371.0,159.50h-6M45.5,156.50h6M371.0,156.50h-6M45.5,154.50h6M371.0,154.50h-6M45.5,152.50h11M371.0,152.50h-11M45.5,139.50h6M371.0,139.50h-6M45.5,131.50h6M371.0,131.50h-6M45.5,126.50h6M371.0,126.50h-6M45.5,121.50h6M371.0,121.50h-6M45.5,118.50h6M371.0,118.50h-6M45.5,115.50h6M371.0,115.50h-6M45.5,112.50h6M371.0,112.50h-6M45.5,110.50h6M371.0,110.50h-6M45.5,108.50h11M371.0,108.50h-11M45.5,95.50h6M371.0,95.50h-6M45.5,87.50h6M371.0,87.50h-6M45.5,82.50h6M371.0,82.50h-6M45.5,78.50h6M371.0,78.50h-6M45.5,74.50h6M371.0,74.50h-6M45.5,71.50h6M371.0,71.50h-6M45.5,69.50h6M371.0,69.50h-6M45.5,67.50h6M371.0,67.50h-6M45.5,65.50h11M371.0,65.50h-11M45.5,51.50h6M371.0,51.50h-6M45.5,44.50h6M371.0,44.50h-6M45.5,38.50h6M371.0,38.50h-6M45.5,34.50h6M371.0,34.50h-6M45.5,31.50h6M371.0,31.50h-6M45.5,28.50h6M371.0,28.50h-6M45.5,25.50h6M371.0,25.50h-6M45.5,23.50h6M371.0,23.50h-6M45.5,21.50h11M371.0,21.50h-11M45.5,477.50h5M371.0,477.50h-5M45.5,457.50h8M371.0,457.50h-8M45.5,442.50h5M371.0,442.50h-5M45.5,428.50h5M371.0,428.50h-5M45.5,417.50h5M371.0,417.50h-5M45.5,406.50h5M371.0,406.50h-5M45.5,397.50h8M371.0,397.50h-8M45.5,389.50h5M371.0,389.50h-5M45.5,381.50h5M371.0,381.50h-5M45.5,374.50h5M371.0,374.50h-5M45.5,368.50h5M371.0,368.50h-5M45.5,362.50h5M371.0,362.50h-5M45.5,356.50h5M371.0,356.50h-5M45.5,351.50h5M371.0,351.50h-5M45.5,346.50h5M371.0,346.50h-5M45.5,341.50h5M371.0,341.50h-5M45.5,337.50h8M371.0,337.50h-8M45.5,333.50h5M371.0,333.50h-5M45.5,329.50h5M371.0,329.50h-5M45.5,325.50h5M371.0,325.50h-5M45.5,321.50h5M371.0,321.50h-5" stroke="#000" stroke-width="1" fill="none"/>
<text x="51" y="14" font-size="12" text-anchor="start" fill="#000" >91.2 GeV ee</text><text x="366" y="14" font-size="12" text-anchor="end" fill="#000" >γ*/Z (Hadronic)</text><text x="130" y="41.5" font-size="11.75">5-jet fraction (E<tspan font-size="8.4" dy="6.0">CMS</tspan><tspan dy="-6.0">=91.2 GeV)</tspan></text><text x="40" y="26" font-size="11" text-anchor="end" fill="#000" >10</text><text x="39.6" y="69.2" font-size="11" text-anchor="end" fill="#000" >1</text><text x="39.6" y="113.70" font-size="11" text-anchor="end">10<tspan font-size="7.5" dy="-4.6" dx="0.3">−1</tspan></text><text x="39.6" y="157.30" font-size="11" text-anchor="end">10<tspan font-size="7.5" dy="-4.6" dx="0.3">−2</tspan></text><text x="39.6" y="200.90" font-size="11" text-anchor="end">10<tspan font-size="7.5" dy="-4.6" dx="0.3">−3</tspan></text><text x="39.6" y="244.50" font-size="11" text-anchor="end">10<tspan font-size="7.5" dy="-4.6" dx="0.3">−4</tspan></text><text x="39.6" y="288.10" font-size="11" text-anchor="end">10<tspan font-size="7.5" dy="-4.6" dx="0.3">−5</tspan></text><text x="39" y="340.90" font-size="12" text-anchor="end" fill="#000" >2</text><text x="374" y="340.70" font-size="12" text-anchor="start" fill="#000" >2</text><text x="39" y="401.20" font-size="12" text-anchor="end" fill="#000" >1</text><text x="374" y="401.00" font-size="12" text-anchor="start" fill="#000" >1</text><text x="39" y="461.50" font-size="12" text-anchor="end" fill="#000" >0.5</text><text x="374" y="461.30" font-size="12" text-anchor="start" fill="#000" >0.5</text><text x="51.68" y="489.2" font-size="11.5" text-anchor="middle" fill="#000" >−10</text><text x="146.34" y="489.2" font-size="11.5" text-anchor="middle" fill="#000" >−8</text><text x="241.00" y="489.2" font-size="11.5" text-anchor="middle" fill="#000" >−6</text><text x="335.66" y="489.2" font-size="11.5" text-anchor="middle" fill="#000" >−4</text><text x="371.5" y="500.3" font-size="12" text-anchor="end">ln(y<tspan font-size="8.5" dy="5.6" dx="0.3">cut</tspan><tspan dy="-5.6" dx="0.8">)</tspan></text><text transform="translate(16.3,134.3) rotate(-90)" font-size="11.8">σ({5 jet})/σ({inclusive})</text><text transform="translate(18.6,427.8) rotate(-90)" font-size="9.3">Ratio to ALEPH</text><text transform="translate(380.3,128) rotate(-90)" font-size="9.4" fill="#888">Rivet 4.1.0, ≥ 100k events</text><text transform="translate(381.2,313.3) rotate(-90)" font-size="9.35" fill="#888">mcplots.cern.ch [arXiv:2401.10621]</text><text x="165.5" y="302.6" font-size="7.8" text-anchor="start" fill="#999" >(ALEPH_2004_I636645)</text>
<rect x="73.70" y="195.20" width="5.6" height="5.6" fill="#000"/><text x="94.3" y="201.2" font-size="9.4" text-anchor="start" fill="#000" >ALEPH</text><line x1="64" y1="211.2" x2="88.5" y2="211.2" stroke="#b8682a" stroke-width="1.0" stroke-dasharray="3,2"/><circle cx="76.50" cy="211.20" r="2.6" fill="none" stroke="#b8682a" stroke-width="1.2"/><text x="94.3" y="214.39999999999998" font-size="9.4" text-anchor="start" fill="#000" >Herwig++ 2.7.1 default</text><line x1="64" y1="224.0" x2="88.5" y2="224.0" stroke="#4aa52a" stroke-width="1.0" stroke-dasharray="3,2"/><rect x="73.90" y="221.40" width="5.2" height="5.2" fill="none" stroke="#4aa52a" stroke-width="1.3"/><text x="94.3" y="227.2" font-size="9.4" text-anchor="start" fill="#000" >Herwig 7.2.1 default</text><line x1="64" y1="237.2" x2="88.5" y2="237.2" stroke="#0000ff" stroke-width="1.0"/><path d="M76.50,233.90L79.65,240.10L73.35,240.10Z" fill="#0000ff"/><text x="94.3" y="240.39999999999998" font-size="9.4" text-anchor="start" fill="#000" >Pythia 8.315 default</text><line x1="64" y1="250.0" x2="88.5" y2="250.0" stroke="#1e9ec8" stroke-width="1.0" stroke-dasharray="3,2,1,2"/><path d="M76.50,253.30L79.65,247.10L73.35,247.10Z" fill="#1e9ec8"/><text x="94.3" y="253.2" font-size="9.4" text-anchor="start" fill="#000" >Pythia 8.315 vincia-default</text><line x1="64" y1="263.1" x2="88.5" y2="263.1" stroke="#ff0000" stroke-width="1.0" stroke-dasharray="1.2,1.3"/><path d="M76.50,259.30L78.95,263.10L76.50,266.90L74.05,263.10Z" fill="#ff0000"/><text x="94.3" y="266.3" font-size="9.4" text-anchor="start" fill="#000" >Sherpa 1.4.5 default</text><line x1="64" y1="276.0" x2="88.5" y2="276.0" stroke="#1fa6c0" stroke-width="1.0" stroke-dasharray="3,2,1,2"/><path d="M76.50,279.30L79.65,273.10L73.35,273.10Z" fill="#1fa6c0"/><text x="94.3" y="279.2" font-size="9.4" text-anchor="start" fill="#000" >Vincia 2.3.01_8.243 default</text></svg></body></html>
